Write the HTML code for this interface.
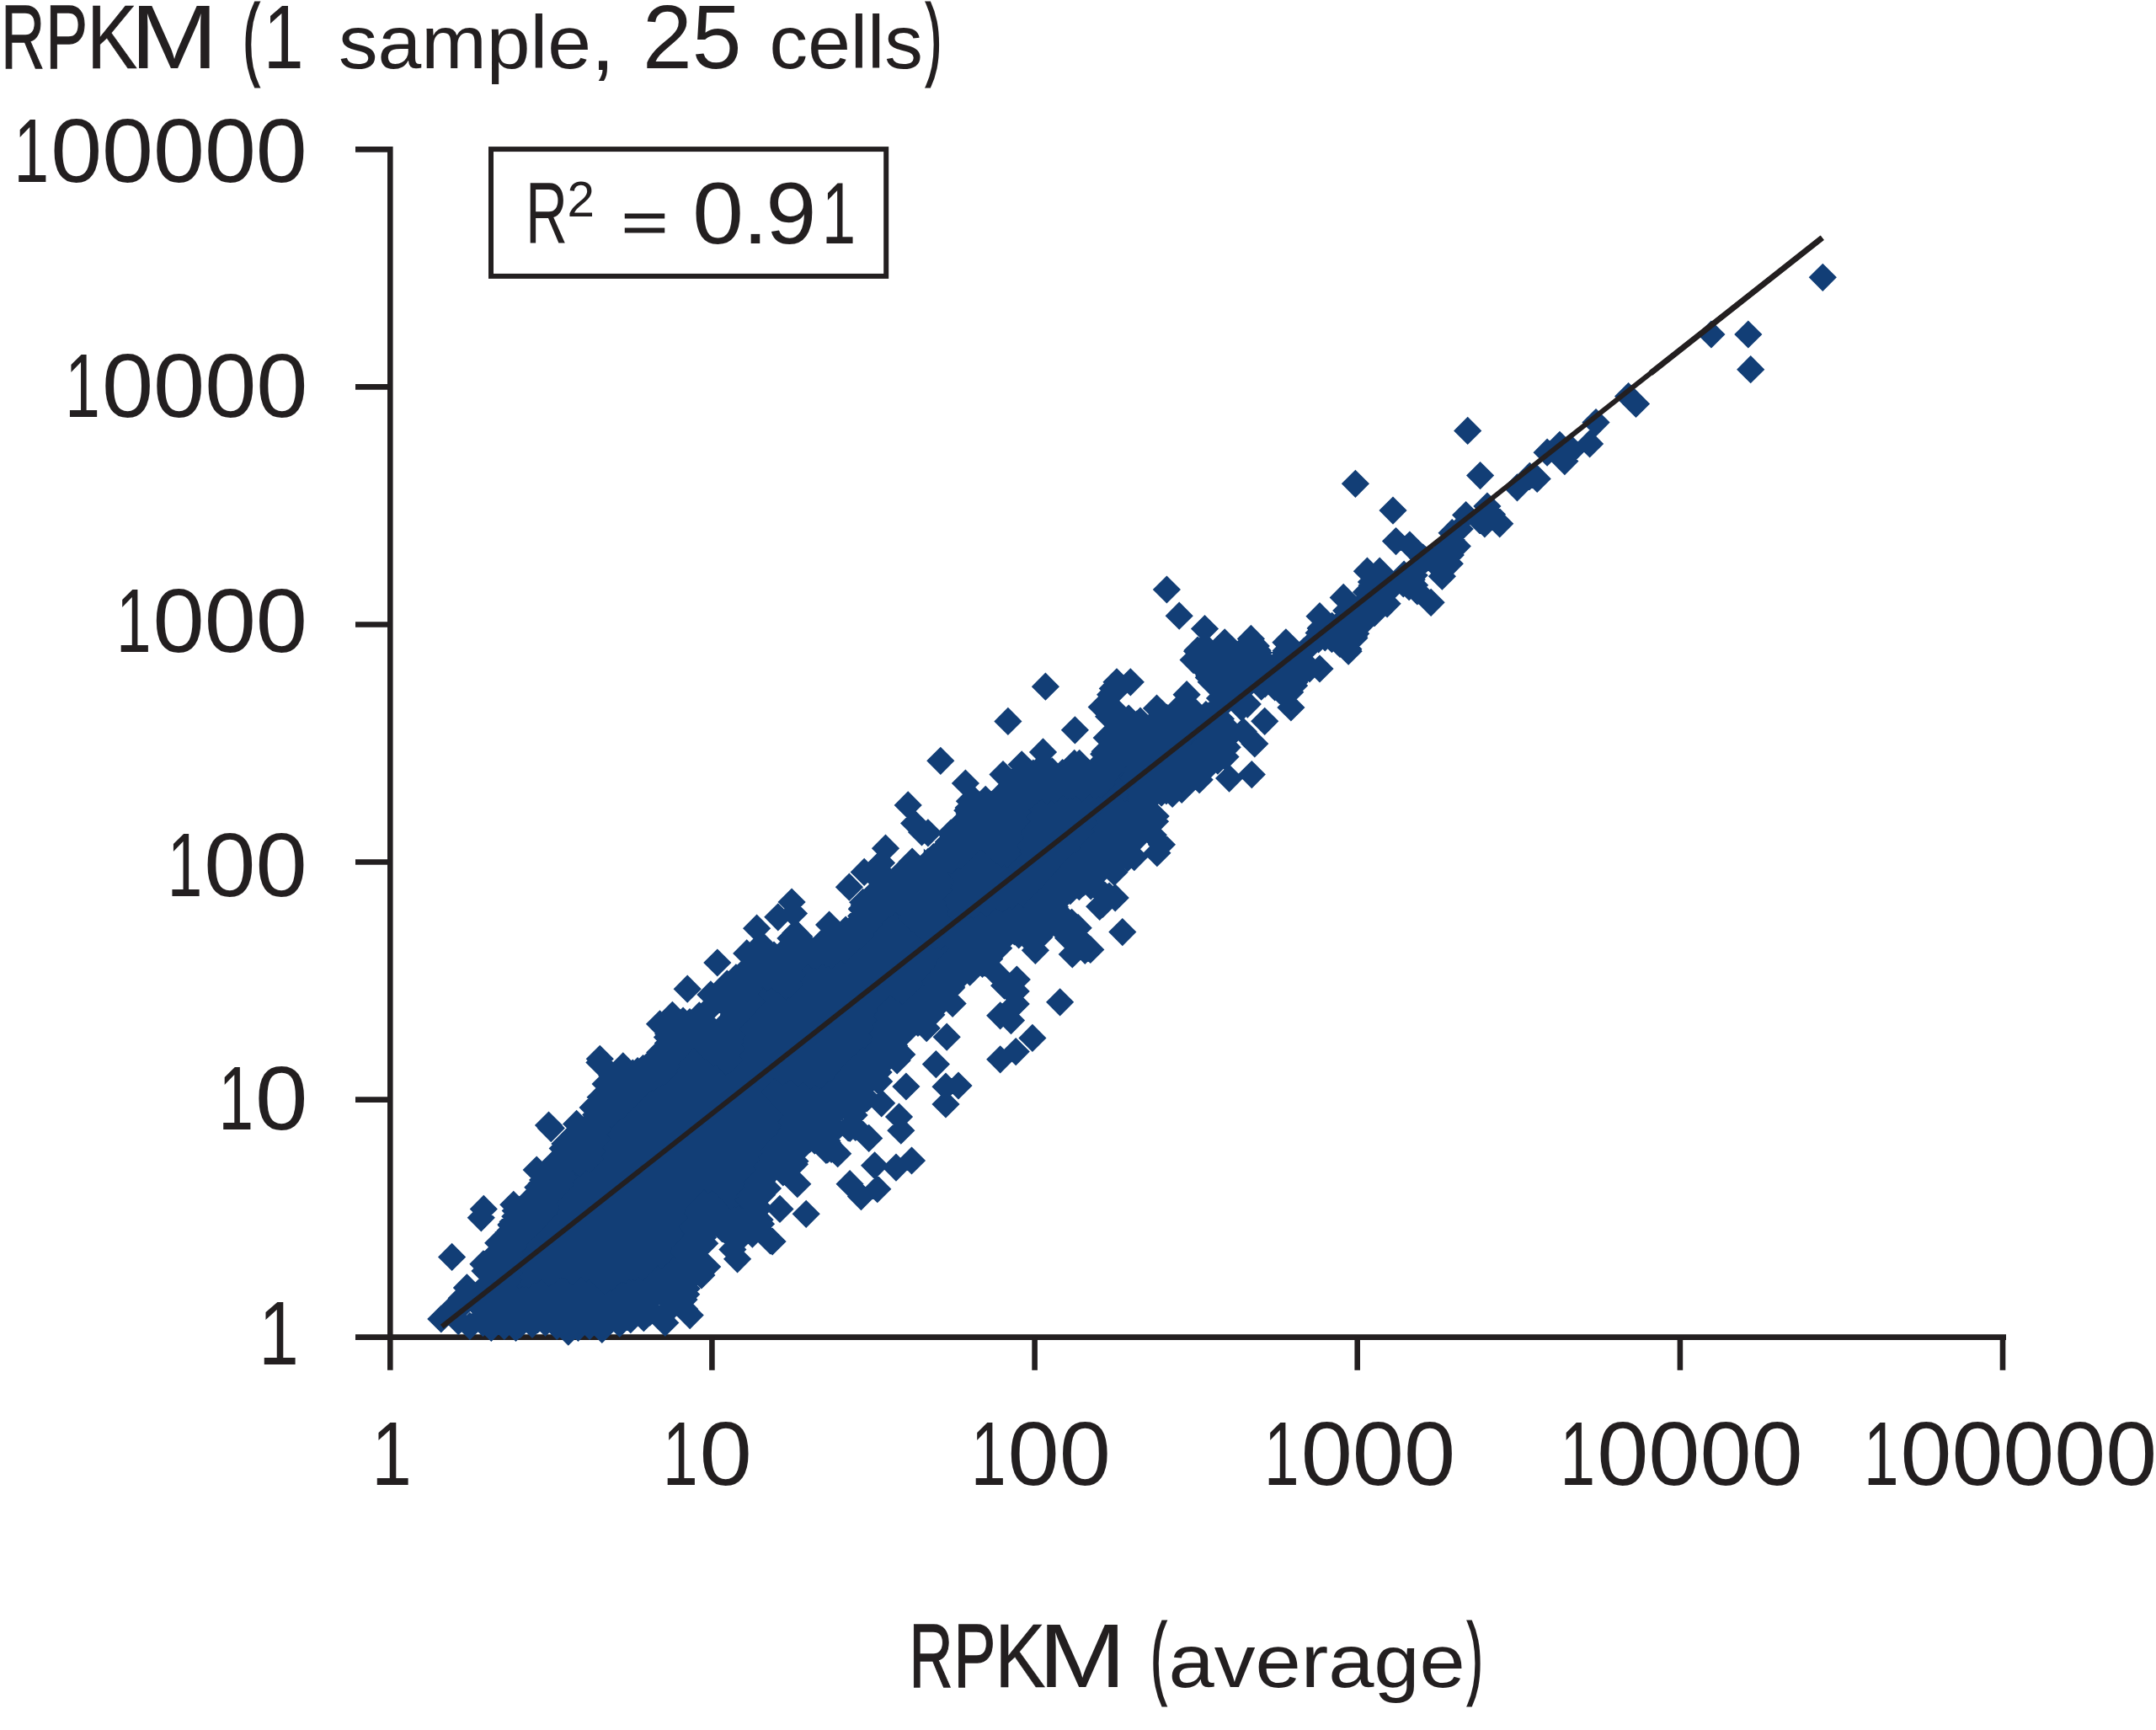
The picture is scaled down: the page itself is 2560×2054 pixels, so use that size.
<!DOCTYPE html>
<html><head><meta charset="utf-8"><title>RPKM scatter</title>
<style>
html,body{margin:0;padding:0;background:#fff;}
body{width:2560px;height:2054px;overflow:hidden;font-family:"Liberation Sans",sans-serif;}
svg{display:block}
svg text{font-family:"Liberation Sans",sans-serif;fill:#231f20;}
</style></head><body>
<svg width="2560" height="2054" viewBox="0 0 2560 2054">
<rect width="2560" height="2054" fill="#fff"/>
<g stroke="#231f20" stroke-width="6.6" fill="none"><path d="M463.3,174.1V1626.8" /><path d="M422,1587.6H2382" /><path d="M845.4,1587.6V1626.8" /><path d="M1228.6,1587.6V1626.8" /><path d="M1611.7,1587.6V1626.8" /><path d="M1994.9,1587.6V1626.8" /><path d="M2378.0,1587.6V1626.8" /><path d="M422,177.4H463.3" /><path d="M422,459.4H463.3" /><path d="M422,741.5H463.3" /><path d="M422,1023.5H463.3" /><path d="M422,1305.6H463.3" /></g>
<path fill="#123e76" d="M557.8,1552.2L571.0,1551.1L585.4,1560.0L595.9,1555.3L613.8,1562.4L632.6,1558.3L663.6,1553.1L677.0,1563.4L691.9,1554.3L714.9,1563.8L737.1,1558.8L773.9,1546.5L781.9,1550.5L797.5,1531.8L811.8,1539.9L843.4,1451.7L872.4,1472.5L877.0,1468.0L902.8,1462.9L904.4,1461.3L906.3,1426.6L927.7,1391.0L947.7,1355.9L971.4,1355.9L954.3,1321.7L1001.6,1330.3L994.5,1313.7L1032.7,1279.3L1052.8,1260.0L1068.6,1223.2L1080.1,1226.9L1079.1,1224.1L1098.9,1219.5L1095.9,1213.1L1120.4,1183.0L1130.3,1163.3L1173.9,1141.5L1160.4,1121.1L1218.5,1106.6L1221.3,1110.1L1225.3,1109.1L1229.4,1112.5L1252.1,1089.9L1247.6,1084.6L1290.0,1042.1L1299.3,1051.0L1292.7,1041.9L1329.9,986.1L1341.3,996.0L1359.0,968.0L1367.8,975.7L1362.9,918.2L1380.4,940.5L1387.7,936.8L1403.2,905.9L1422.3,916.4L1446.5,898.5L1457.3,908.9L1459.9,905.6L1451.1,857.0L1414.0,835.7L1398.6,854.4L1380.7,849.1L1371.4,860.3L1344.1,860.3L1319.7,835.9L1314.7,843.5L1319.1,862.7L1327.2,873.0L1298.1,913.6L1244.9,918.9L1238.5,912.4L1232.0,918.8L1225.3,918.2L1216.7,930.6L1200.6,929.5L1197.4,932.7L1183.1,983.3L1151.2,953.8L1147.3,972.4L1129.5,993.7L1132.1,997.0L1111.3,1022.0L1096.8,1007.6L1096.8,1075.5L1056.5,1036.6L1050.7,1053.7L1025.8,1071.3L1018.0,1096.2L984.8,1116.1L939.9,1109.7L925.9,1143.7L909.7,1131.4L909.5,1131.9L874.6,1178.3L860.8,1168.8L851.6,1227.2L825.6,1204.9L825.5,1206.1L802.3,1222.4L793.1,1231.5L786.4,1251.2L761.5,1263.7L730.2,1292.1L719.9,1284.2L715.4,1302.3L699.4,1324.8L684.6,1361.7L664.2,1355.0L664.2,1376.3L638.6,1412.9L622.4,1438.8L595.1,1466.1L587.8,1461.7L588.6,1488.1L581.4,1527.1L560.1,1549.1L557.8,1552.2zM1451.8,827.8L1484.3,841.9L1457.4,797.1L1528.8,822.0L1533.0,826.3L1533.2,826.0L1533.7,811.7L1557.2,797.3L1558.2,796.3L1532.9,779.0L1539.2,774.8L1530.0,768.4L1511.8,790.8L1490.4,769.4L1489.2,768.1L1474.7,782.0L1455.1,771.0L1434.8,779.2L1428.3,768.6L1425.9,774.6L1424.5,780.1L1451.8,827.8zM1563.0,758.9L1566.5,756.6L1593.3,761.4L1600.3,767.5L1603.4,764.4L1613.2,740.0L1626.0,729.0L1602.9,716.1L1589.1,749.4L1574.0,739.5L1568.8,751.7L1563.0,758.9zM1627.5,727.8L1635.6,720.8L1653.7,696.6L1638.6,683.6L1630.8,690.8L1624.8,685.2L1627.5,727.8zM1662.2,688.9L1688.1,701.9L1672.7,676.6L1662.2,688.9zM1694.1,663.3L1711.8,678.6L1715.9,674.7L1721.9,662.7L1729.5,644.8L1730.5,629.1L1717.8,648.2L1694.1,663.3zM1759.6,615.0L1763.0,617.6L1770.0,612.3L1769.2,611.2L1766.1,608.1L1759.6,615.0z"/>
<path fill="#123e76" d="M1209.4,939.0l16.6,16.6l-16.6,16.6l-16.6,-16.6zM929.5,1373.9l16.6,16.6l-16.6,16.6l-16.6,-16.6zM936.5,1151.3l16.6,16.6l-16.6,16.6l-16.6,-16.6zM1447.6,864.0l16.6,16.6l-16.6,16.6l-16.6,-16.6zM1263.6,1026.4l16.6,16.6l-16.6,16.6l-16.6,-16.6zM981.1,1115.7l16.6,16.6l-16.6,16.6l-16.6,-16.6zM1167.3,1099.4l16.6,16.6l-16.6,16.6l-16.6,-16.6zM740.0,1277.4l16.6,16.6l-16.6,16.6l-16.6,-16.6zM1040.0,1056.4l16.6,16.6l-16.6,16.6l-16.6,-16.6zM629.0,1537.1l16.6,16.6l-16.6,16.6l-16.6,-16.6zM631.9,1419.0l16.6,16.6l-16.6,16.6l-16.6,-16.6zM1033.7,1075.2l16.6,16.6l-16.6,16.6l-16.6,-16.6zM653.9,1398.2l16.6,16.6l-16.6,16.6l-16.6,-16.6zM1168.9,1102.7l16.6,16.6l-16.6,16.6l-16.6,-16.6zM1447.5,784.1l16.6,16.6l-16.6,16.6l-16.6,-16.6zM1157.8,955.3l16.6,16.6l-16.6,16.6l-16.6,-16.6zM808.1,1498.9l16.6,16.6l-16.6,16.6l-16.6,-16.6zM834.6,1452.7l16.6,16.6l-16.6,16.6l-16.6,-16.6zM1357.2,876.4l16.6,16.6l-16.6,16.6l-16.6,-16.6zM1344.3,879.3l16.6,16.6l-16.6,16.6l-16.6,-16.6zM812.0,1526.5l16.6,16.6l-16.6,16.6l-16.6,-16.6zM1367.6,951.5l16.6,16.6l-16.6,16.6l-16.6,-16.6zM1079.0,1062.4l16.6,16.6l-16.6,16.6l-16.6,-16.6zM1297.2,902.5l16.6,16.6l-16.6,16.6l-16.6,-16.6zM1458.2,778.3l16.6,16.6l-16.6,16.6l-16.6,-16.6zM1261.6,901.0l16.6,16.6l-16.6,16.6l-16.6,-16.6zM863.6,1164.7l16.6,16.6l-16.6,16.6l-16.6,-16.6zM751.3,1257.4l16.6,16.6l-16.6,16.6l-16.6,-16.6zM934.3,1132.9l16.6,16.6l-16.6,16.6l-16.6,-16.6zM1445.9,782.6l16.6,16.6l-16.6,16.6l-16.6,-16.6zM1564.7,740.7l16.6,16.6l-16.6,16.6l-16.6,-16.6zM1517.0,800.4l16.6,16.6l-16.6,16.6l-16.6,-16.6zM1187.3,956.3l16.6,16.6l-16.6,16.6l-16.6,-16.6zM1321.6,881.6l16.6,16.6l-16.6,16.6l-16.6,-16.6zM1099.8,1009.2l16.6,16.6l-16.6,16.6l-16.6,-16.6zM1170.1,950.8l16.6,16.6l-16.6,16.6l-16.6,-16.6zM678.6,1544.7l16.6,16.6l-16.6,16.6l-16.6,-16.6zM1325.0,966.6l16.6,16.6l-16.6,16.6l-16.6,-16.6zM1308.1,1003.3l16.6,16.6l-16.6,16.6l-16.6,-16.6zM1550.9,754.6l16.6,16.6l-16.6,16.6l-16.6,-16.6zM609.6,1444.6l16.6,16.6l-16.6,16.6l-16.6,-16.6zM962.8,1309.8l16.6,16.6l-16.6,16.6l-16.6,-16.6zM1425.8,842.8l16.6,16.6l-16.6,16.6l-16.6,-16.6zM631.0,1423.8l16.6,16.6l-16.6,16.6l-16.6,-16.6zM1327.1,863.4l16.6,16.6l-16.6,16.6l-16.6,-16.6zM1482.0,783.9l16.6,16.6l-16.6,16.6l-16.6,-16.6zM1645.7,669.2l16.6,16.6l-16.6,16.6l-16.6,-16.6zM1324.8,827.4l16.6,16.6l-16.6,16.6l-16.6,-16.6zM1314.9,981.2l16.6,16.6l-16.6,16.6l-16.6,-16.6zM700.5,1536.5l16.6,16.6l-16.6,16.6l-16.6,-16.6zM709.0,1335.8l16.6,16.6l-16.6,16.6l-16.6,-16.6zM1127.3,1128.6l16.6,16.6l-16.6,16.6l-16.6,-16.6zM1077.2,1201.3l16.6,16.6l-16.6,16.6l-16.6,-16.6zM1361.2,935.9l16.6,16.6l-16.6,16.6l-16.6,-16.6zM1125.8,1129.1l16.6,16.6l-16.6,16.6l-16.6,-16.6zM1356.9,942.1l16.6,16.6l-16.6,16.6l-16.6,-16.6zM699.6,1519.0l16.6,16.6l-16.6,16.6l-16.6,-16.6zM1452.7,766.9l16.6,16.6l-16.6,16.6l-16.6,-16.6zM932.7,1290.2l16.6,16.6l-16.6,16.6l-16.6,-16.6zM624.5,1526.3l16.6,16.6l-16.6,16.6l-16.6,-16.6zM657.8,1364.7l16.6,16.6l-16.6,16.6l-16.6,-16.6zM772.3,1262.8l16.6,16.6l-16.6,16.6l-16.6,-16.6zM1284.9,919.0l16.6,16.6l-16.6,16.6l-16.6,-16.6zM591.2,1542.2l16.6,16.6l-16.6,16.6l-16.6,-16.6zM1432.6,774.3l16.6,16.6l-16.6,16.6l-16.6,-16.6zM594.2,1481.6l16.6,16.6l-16.6,16.6l-16.6,-16.6zM821.3,1487.7l16.6,16.6l-16.6,16.6l-16.6,-16.6zM690.4,1530.8l16.6,16.6l-16.6,16.6l-16.6,-16.6zM619.9,1450.1l16.6,16.6l-16.6,16.6l-16.6,-16.6zM1444.0,869.4l16.6,16.6l-16.6,16.6l-16.6,-16.6zM1098.5,1083.8l16.6,16.6l-16.6,16.6l-16.6,-16.6zM625.2,1428.6l16.6,16.6l-16.6,16.6l-16.6,-16.6zM1181.6,1098.2l16.6,16.6l-16.6,16.6l-16.6,-16.6zM1082.8,1073.3l16.6,16.6l-16.6,16.6l-16.6,-16.6zM1339.5,842.6l16.6,16.6l-16.6,16.6l-16.6,-16.6zM1384.8,850.0l16.6,16.6l-16.6,16.6l-16.6,-16.6zM1314.5,827.9l16.6,16.6l-16.6,16.6l-16.6,-16.6zM1304.1,1038.7l16.6,16.6l-16.6,16.6l-16.6,-16.6zM1235.0,1060.4l16.6,16.6l-16.6,16.6l-16.6,-16.6zM1106.5,1028.1l16.6,16.6l-16.6,16.6l-16.6,-16.6zM1439.8,868.8l16.6,16.6l-16.6,16.6l-16.6,-16.6zM1245.2,1066.1l16.6,16.6l-16.6,16.6l-16.6,-16.6zM1186.7,1085.4l16.6,16.6l-16.6,16.6l-16.6,-16.6zM1091.6,1189.0l16.6,16.6l-16.6,16.6l-16.6,-16.6zM1162.6,1120.1l16.6,16.6l-16.6,16.6l-16.6,-16.6zM617.2,1445.8l16.6,16.6l-16.6,16.6l-16.6,-16.6zM1091.0,1184.7l16.6,16.6l-16.6,16.6l-16.6,-16.6zM1206.8,958.3l16.6,16.6l-16.6,16.6l-16.6,-16.6zM1367.4,915.6l16.6,16.6l-16.6,16.6l-16.6,-16.6zM741.7,1267.5l16.6,16.6l-16.6,16.6l-16.6,-16.6zM984.2,1283.5l16.6,16.6l-16.6,16.6l-16.6,-16.6zM805.9,1504.1l16.6,16.6l-16.6,16.6l-16.6,-16.6zM1419.3,837.7l16.6,16.6l-16.6,16.6l-16.6,-16.6zM1623.5,704.5l16.6,16.6l-16.6,16.6l-16.6,-16.6zM1366.6,925.3l16.6,16.6l-16.6,16.6l-16.6,-16.6zM1057.6,1222.3l16.6,16.6l-16.6,16.6l-16.6,-16.6zM1410.5,825.8l16.6,16.6l-16.6,16.6l-16.6,-16.6zM1431.9,831.9l16.6,16.6l-16.6,16.6l-16.6,-16.6zM686.7,1350.1l16.6,16.6l-16.6,16.6l-16.6,-16.6zM1286.7,1031.2l16.6,16.6l-16.6,16.6l-16.6,-16.6zM1183.2,992.6l16.6,16.6l-16.6,16.6l-16.6,-16.6zM1243.2,922.1l16.6,16.6l-16.6,16.6l-16.6,-16.6zM915.5,1137.4l16.6,16.6l-16.6,16.6l-16.6,-16.6zM1346.6,875.0l16.6,16.6l-16.6,16.6l-16.6,-16.6zM1152.0,1120.9l16.6,16.6l-16.6,16.6l-16.6,-16.6zM1380.9,831.8l16.6,16.6l-16.6,16.6l-16.6,-16.6zM685.8,1359.0l16.6,16.6l-16.6,16.6l-16.6,-16.6zM1125.6,1143.1l16.6,16.6l-16.6,16.6l-16.6,-16.6zM1375.7,849.2l16.6,16.6l-16.6,16.6l-16.6,-16.6zM1107.6,1016.1l16.6,16.6l-16.6,16.6l-16.6,-16.6zM952.0,1309.4l16.6,16.6l-16.6,16.6l-16.6,-16.6zM1385.5,912.1l16.6,16.6l-16.6,16.6l-16.6,-16.6zM1290.2,905.4l16.6,16.6l-16.6,16.6l-16.6,-16.6zM1285.3,1023.4l16.6,16.6l-16.6,16.6l-16.6,-16.6zM687.2,1526.7l16.6,16.6l-16.6,16.6l-16.6,-16.6zM735.5,1296.6l16.6,16.6l-16.6,16.6l-16.6,-16.6zM770.2,1247.7l16.6,16.6l-16.6,16.6l-16.6,-16.6zM731.9,1298.7l16.6,16.6l-16.6,16.6l-16.6,-16.6zM814.7,1520.1l16.6,16.6l-16.6,16.6l-16.6,-16.6zM863.3,1175.8l16.6,16.6l-16.6,16.6l-16.6,-16.6zM1383.3,897.0l16.6,16.6l-16.6,16.6l-16.6,-16.6zM1194.7,1095.2l16.6,16.6l-16.6,16.6l-16.6,-16.6zM1433.8,851.1l16.6,16.6l-16.6,16.6l-16.6,-16.6zM1426.8,871.0l16.6,16.6l-16.6,16.6l-16.6,-16.6zM1051.9,1211.8l16.6,16.6l-16.6,16.6l-16.6,-16.6zM1091.2,1060.3l16.6,16.6l-16.6,16.6l-16.6,-16.6zM1536.2,779.3l16.6,16.6l-16.6,16.6l-16.6,-16.6zM1245.1,898.4l16.6,16.6l-16.6,16.6l-16.6,-16.6zM1581.6,726.7l16.6,16.6l-16.6,16.6l-16.6,-16.6zM1060.2,1222.1l16.6,16.6l-16.6,16.6l-16.6,-16.6zM1585.3,732.6l16.6,16.6l-16.6,16.6l-16.6,-16.6zM883.6,1448.2l16.6,16.6l-16.6,16.6l-16.6,-16.6zM1282.9,1031.4l16.6,16.6l-16.6,16.6l-16.6,-16.6zM1631.8,699.0l16.6,16.6l-16.6,16.6l-16.6,-16.6zM1160.5,1103.5l16.6,16.6l-16.6,16.6l-16.6,-16.6zM845.1,1427.4l16.6,16.6l-16.6,16.6l-16.6,-16.6zM1294.2,1027.7l16.6,16.6l-16.6,16.6l-16.6,-16.6zM825.8,1445.1l16.6,16.6l-16.6,16.6l-16.6,-16.6zM1035.2,1068.4l16.6,16.6l-16.6,16.6l-16.6,-16.6zM1327.6,948.9l16.6,16.6l-16.6,16.6l-16.6,-16.6zM1339.4,857.1l16.6,16.6l-16.6,16.6l-16.6,-16.6zM1325.5,836.7l16.6,16.6l-16.6,16.6l-16.6,-16.6zM1204.4,1089.2l16.6,16.6l-16.6,16.6l-16.6,-16.6zM828.4,1423.7l16.6,16.6l-16.6,16.6l-16.6,-16.6zM1243.3,1076.4l16.6,16.6l-16.6,16.6l-16.6,-16.6zM1111.6,1151.3l16.6,16.6l-16.6,16.6l-16.6,-16.6zM1129.1,972.4l16.6,16.6l-16.6,16.6l-16.6,-16.6zM845.0,1213.1l16.6,16.6l-16.6,16.6l-16.6,-16.6zM680.1,1345.8l16.6,16.6l-16.6,16.6l-16.6,-16.6zM954.4,1329.8l16.6,16.6l-16.6,16.6l-16.6,-16.6zM1001.7,1104.7l16.6,16.6l-16.6,16.6l-16.6,-16.6zM1375.3,854.0l16.6,16.6l-16.6,16.6l-16.6,-16.6zM997.4,1283.7l16.6,16.6l-16.6,16.6l-16.6,-16.6zM802.6,1226.0l16.6,16.6l-16.6,16.6l-16.6,-16.6zM1044.6,1241.7l16.6,16.6l-16.6,16.6l-16.6,-16.6zM1270.6,1022.8l16.6,16.6l-16.6,16.6l-16.6,-16.6zM1401.7,832.8l16.6,16.6l-16.6,16.6l-16.6,-16.6zM1442.9,849.0l16.6,16.6l-16.6,16.6l-16.6,-16.6zM763.1,1257.8l16.6,16.6l-16.6,16.6l-16.6,-16.6zM938.1,1282.3l16.6,16.6l-16.6,16.6l-16.6,-16.6zM1191.4,936.3l16.6,16.6l-16.6,16.6l-16.6,-16.6zM1312.1,875.6l16.6,16.6l-16.6,16.6l-16.6,-16.6zM665.6,1516.2l16.6,16.6l-16.6,16.6l-16.6,-16.6zM788.2,1511.1l16.6,16.6l-16.6,16.6l-16.6,-16.6zM829.4,1464.1l16.6,16.6l-16.6,16.6l-16.6,-16.6zM1055.2,1199.8l16.6,16.6l-16.6,16.6l-16.6,-16.6zM1357.1,953.5l16.6,16.6l-16.6,16.6l-16.6,-16.6zM1213.4,910.8l16.6,16.6l-16.6,16.6l-16.6,-16.6zM1530.2,805.2l16.6,16.6l-16.6,16.6l-16.6,-16.6zM1462.0,777.6l16.6,16.6l-16.6,16.6l-16.6,-16.6zM1536.6,797.4l16.6,16.6l-16.6,16.6l-16.6,-16.6zM954.8,1292.9l16.6,16.6l-16.6,16.6l-16.6,-16.6zM1528.6,763.0l16.6,16.6l-16.6,16.6l-16.6,-16.6zM963.5,1326.1l16.6,16.6l-16.6,16.6l-16.6,-16.6zM1310.7,878.7l16.6,16.6l-16.6,16.6l-16.6,-16.6zM980.4,1099.6l16.6,16.6l-16.6,16.6l-16.6,-16.6zM981.9,1297.7l16.6,16.6l-16.6,16.6l-16.6,-16.6zM1021.6,1252.8l16.6,16.6l-16.6,16.6l-16.6,-16.6zM1059.5,1232.2l16.6,16.6l-16.6,16.6l-16.6,-16.6zM1307.0,891.4l16.6,16.6l-16.6,16.6l-16.6,-16.6zM941.6,1317.4l16.6,16.6l-16.6,16.6l-16.6,-16.6zM872.7,1175.8l16.6,16.6l-16.6,16.6l-16.6,-16.6zM1443.8,833.7l16.6,16.6l-16.6,16.6l-16.6,-16.6zM1438.2,793.1l16.6,16.6l-16.6,16.6l-16.6,-16.6zM1355.2,854.3l16.6,16.6l-16.6,16.6l-16.6,-16.6zM1333.7,949.5l16.6,16.6l-16.6,16.6l-16.6,-16.6zM1466.4,810.0l16.6,16.6l-16.6,16.6l-16.6,-16.6zM879.0,1436.1l16.6,16.6l-16.6,16.6l-16.6,-16.6zM1481.3,819.5l16.6,16.6l-16.6,16.6l-16.6,-16.6zM1106.9,1071.7l16.6,16.6l-16.6,16.6l-16.6,-16.6zM1043.1,1250.6l16.6,16.6l-16.6,16.6l-16.6,-16.6zM1001.2,1273.6l16.6,16.6l-16.6,16.6l-16.6,-16.6zM1452.4,786.2l16.6,16.6l-16.6,16.6l-16.6,-16.6zM1150.1,942.5l16.6,16.6l-16.6,16.6l-16.6,-16.6zM692.6,1538.3l16.6,16.6l-16.6,16.6l-16.6,-16.6zM845.7,1413.0l16.6,16.6l-16.6,16.6l-16.6,-16.6zM830.3,1189.3l16.6,16.6l-16.6,16.6l-16.6,-16.6zM1403.8,835.8l16.6,16.6l-16.6,16.6l-16.6,-16.6zM1446.0,844.3l16.6,16.6l-16.6,16.6l-16.6,-16.6zM1451.0,805.8l16.6,16.6l-16.6,16.6l-16.6,-16.6zM1610.7,724.5l16.6,16.6l-16.6,16.6l-16.6,-16.6zM792.0,1509.3l16.6,16.6l-16.6,16.6l-16.6,-16.6zM977.5,1292.9l16.6,16.6l-16.6,16.6l-16.6,-16.6zM1117.7,1141.0l16.6,16.6l-16.6,16.6l-16.6,-16.6zM801.7,1206.4l16.6,16.6l-16.6,16.6l-16.6,-16.6zM1374.9,863.0l16.6,16.6l-16.6,16.6l-16.6,-16.6zM1036.0,1070.0l16.6,16.6l-16.6,16.6l-16.6,-16.6zM1188.9,996.7l16.6,16.6l-16.6,16.6l-16.6,-16.6zM1437.2,854.2l16.6,16.6l-16.6,16.6l-16.6,-16.6zM647.8,1419.5l16.6,16.6l-16.6,16.6l-16.6,-16.6zM781.2,1502.6l16.6,16.6l-16.6,16.6l-16.6,-16.6zM740.4,1278.3l16.6,16.6l-16.6,16.6l-16.6,-16.6zM1247.4,900.8l16.6,16.6l-16.6,16.6l-16.6,-16.6zM1098.1,1031.8l16.6,16.6l-16.6,16.6l-16.6,-16.6zM1154.8,967.4l16.6,16.6l-16.6,16.6l-16.6,-16.6zM1155.4,976.4l16.6,16.6l-16.6,16.6l-16.6,-16.6zM958.3,1110.3l16.6,16.6l-16.6,16.6l-16.6,-16.6zM1185.0,958.3l16.6,16.6l-16.6,16.6l-16.6,-16.6zM1692.0,648.0l16.6,16.6l-16.6,16.6l-16.6,-16.6zM699.8,1359.8l16.6,16.6l-16.6,16.6l-16.6,-16.6zM816.7,1493.1l16.6,16.6l-16.6,16.6l-16.6,-16.6zM699.9,1337.5l16.6,16.6l-16.6,16.6l-16.6,-16.6zM1459.6,792.7l16.6,16.6l-16.6,16.6l-16.6,-16.6zM1362.2,883.1l16.6,16.6l-16.6,16.6l-16.6,-16.6zM1098.8,1038.0l16.6,16.6l-16.6,16.6l-16.6,-16.6zM1126.4,982.9l16.6,16.6l-16.6,16.6l-16.6,-16.6zM1434.5,877.1l16.6,16.6l-16.6,16.6l-16.6,-16.6zM1764.0,595.6l16.6,16.6l-16.6,16.6l-16.6,-16.6zM1499.0,796.6l16.6,16.6l-16.6,16.6l-16.6,-16.6zM868.6,1228.6l16.6,16.6l-16.6,16.6l-16.6,-16.6zM1446.8,776.9l16.6,16.6l-16.6,16.6l-16.6,-16.6zM882.2,1439.5l16.6,16.6l-16.6,16.6l-16.6,-16.6zM603.2,1487.2l16.6,16.6l-16.6,16.6l-16.6,-16.6zM647.3,1415.5l16.6,16.6l-16.6,16.6l-16.6,-16.6zM1179.3,1080.9l16.6,16.6l-16.6,16.6l-16.6,-16.6zM1055.0,1187.7l16.6,16.6l-16.6,16.6l-16.6,-16.6zM863.3,1151.6l16.6,16.6l-16.6,16.6l-16.6,-16.6zM1134.6,968.7l16.6,16.6l-16.6,16.6l-16.6,-16.6zM1116.9,1094.5l16.6,16.6l-16.6,16.6l-16.6,-16.6zM1226.8,901.5l16.6,16.6l-16.6,16.6l-16.6,-16.6zM1353.6,930.1l16.6,16.6l-16.6,16.6l-16.6,-16.6zM656.6,1536.8l16.6,16.6l-16.6,16.6l-16.6,-16.6zM1625.7,693.0l16.6,16.6l-16.6,16.6l-16.6,-16.6zM1360.9,894.2l16.6,16.6l-16.6,16.6l-16.6,-16.6zM886.8,1440.4l16.6,16.6l-16.6,16.6l-16.6,-16.6zM1039.7,1048.4l16.6,16.6l-16.6,16.6l-16.6,-16.6zM1595.8,729.7l16.6,16.6l-16.6,16.6l-16.6,-16.6zM766.3,1518.3l16.6,16.6l-16.6,16.6l-16.6,-16.6zM1530.0,764.0l16.6,16.6l-16.6,16.6l-16.6,-16.6zM1299.9,994.7l16.6,16.6l-16.6,16.6l-16.6,-16.6zM1194.9,992.6l16.6,16.6l-16.6,16.6l-16.6,-16.6zM1326.0,887.9l16.6,16.6l-16.6,16.6l-16.6,-16.6zM633.1,1530.3l16.6,16.6l-16.6,16.6l-16.6,-16.6zM1604.6,702.2l16.6,16.6l-16.6,16.6l-16.6,-16.6zM1473.7,804.4l16.6,16.6l-16.6,16.6l-16.6,-16.6zM1166.5,1127.8l16.6,16.6l-16.6,16.6l-16.6,-16.6zM1530.3,763.9l16.6,16.6l-16.6,16.6l-16.6,-16.6zM1475.9,788.5l16.6,16.6l-16.6,16.6l-16.6,-16.6zM1201.7,914.3l16.6,16.6l-16.6,16.6l-16.6,-16.6zM1202.3,961.1l16.6,16.6l-16.6,16.6l-16.6,-16.6zM943.0,1302.8l16.6,16.6l-16.6,16.6l-16.6,-16.6zM594.2,1510.5l16.6,16.6l-16.6,16.6l-16.6,-16.6zM611.8,1427.7l16.6,16.6l-16.6,16.6l-16.6,-16.6zM1266.9,1030.3l16.6,16.6l-16.6,16.6l-16.6,-16.6zM1761.7,597.3l16.6,16.6l-16.6,16.6l-16.6,-16.6zM703.0,1350.5l16.6,16.6l-16.6,16.6l-16.6,-16.6zM686.9,1351.5l16.6,16.6l-16.6,16.6l-16.6,-16.6zM1324.9,864.7l16.6,16.6l-16.6,16.6l-16.6,-16.6zM1385.6,911.3l16.6,16.6l-16.6,16.6l-16.6,-16.6zM752.4,1268.2l16.6,16.6l-16.6,16.6l-16.6,-16.6zM1628.2,687.5l16.6,16.6l-16.6,16.6l-16.6,-16.6zM642.9,1424.9l16.6,16.6l-16.6,16.6l-16.6,-16.6zM1249.2,1079.5l16.6,16.6l-16.6,16.6l-16.6,-16.6zM1152.7,1112.4l16.6,16.6l-16.6,16.6l-16.6,-16.6zM1374.8,915.2l16.6,16.6l-16.6,16.6l-16.6,-16.6zM1225.0,925.2l16.6,16.6l-16.6,16.6l-16.6,-16.6zM1364.6,915.1l16.6,16.6l-16.6,16.6l-16.6,-16.6zM709.4,1528.2l16.6,16.6l-16.6,16.6l-16.6,-16.6zM911.7,1142.8l16.6,16.6l-16.6,16.6l-16.6,-16.6zM807.1,1211.3l16.6,16.6l-16.6,16.6l-16.6,-16.6zM1232.8,900.4l16.6,16.6l-16.6,16.6l-16.6,-16.6zM925.8,1360.8l16.6,16.6l-16.6,16.6l-16.6,-16.6zM835.6,1198.0l16.6,16.6l-16.6,16.6l-16.6,-16.6zM763.6,1252.0l16.6,16.6l-16.6,16.6l-16.6,-16.6zM596.0,1508.3l16.6,16.6l-16.6,16.6l-16.6,-16.6zM975.8,1299.0l16.6,16.6l-16.6,16.6l-16.6,-16.6zM1305.7,899.2l16.6,16.6l-16.6,16.6l-16.6,-16.6zM1042.5,1067.6l16.6,16.6l-16.6,16.6l-16.6,-16.6zM1424.6,893.0l16.6,16.6l-16.6,16.6l-16.6,-16.6zM950.0,1300.3l16.6,16.6l-16.6,16.6l-16.6,-16.6zM938.1,1109.3l16.6,16.6l-16.6,16.6l-16.6,-16.6zM880.7,1172.9l16.6,16.6l-16.6,16.6l-16.6,-16.6zM676.8,1358.1l16.6,16.6l-16.6,16.6l-16.6,-16.6zM1351.0,875.5l16.6,16.6l-16.6,16.6l-16.6,-16.6zM822.3,1469.7l16.6,16.6l-16.6,16.6l-16.6,-16.6zM624.8,1441.5l16.6,16.6l-16.6,16.6l-16.6,-16.6zM1435.3,787.9l16.6,16.6l-16.6,16.6l-16.6,-16.6zM1262.9,1030.1l16.6,16.6l-16.6,16.6l-16.6,-16.6zM1006.7,1261.8l16.6,16.6l-16.6,16.6l-16.6,-16.6zM1493.1,755.7l16.6,16.6l-16.6,16.6l-16.6,-16.6zM1394.0,902.7l16.6,16.6l-16.6,16.6l-16.6,-16.6zM1489.9,777.9l16.6,16.6l-16.6,16.6l-16.6,-16.6zM740.5,1286.5l16.6,16.6l-16.6,16.6l-16.6,-16.6zM1353.7,920.0l16.6,16.6l-16.6,16.6l-16.6,-16.6zM714.7,1547.9l16.6,16.6l-16.6,16.6l-16.6,-16.6zM1213.9,931.6l16.6,16.6l-16.6,16.6l-16.6,-16.6zM1019.1,1273.2l16.6,16.6l-16.6,16.6l-16.6,-16.6zM1628.4,674.5l16.6,16.6l-16.6,16.6l-16.6,-16.6zM1064.7,1037.4l16.6,16.6l-16.6,16.6l-16.6,-16.6zM1718.0,634.1l16.6,16.6l-16.6,16.6l-16.6,-16.6zM1014.7,1096.3l16.6,16.6l-16.6,16.6l-16.6,-16.6zM594.4,1515.2l16.6,16.6l-16.6,16.6l-16.6,-16.6zM1004.5,1094.0l16.6,16.6l-16.6,16.6l-16.6,-16.6zM740.0,1530.7l16.6,16.6l-16.6,16.6l-16.6,-16.6zM661.1,1532.2l16.6,16.6l-16.6,16.6l-16.6,-16.6zM1272.4,1029.2l16.6,16.6l-16.6,16.6l-16.6,-16.6zM1109.4,1066.4l16.6,16.6l-16.6,16.6l-16.6,-16.6zM911.0,1144.1l16.6,16.6l-16.6,16.6l-16.6,-16.6zM997.3,1288.2l16.6,16.6l-16.6,16.6l-16.6,-16.6zM1067.4,1207.0l16.6,16.6l-16.6,16.6l-16.6,-16.6zM932.4,1285.8l16.6,16.6l-16.6,16.6l-16.6,-16.6zM1204.1,960.3l16.6,16.6l-16.6,16.6l-16.6,-16.6zM1137.9,1128.6l16.6,16.6l-16.6,16.6l-16.6,-16.6zM961.9,1335.5l16.6,16.6l-16.6,16.6l-16.6,-16.6zM1692.5,647.9l16.6,16.6l-16.6,16.6l-16.6,-16.6zM1164.5,1082.7l16.6,16.6l-16.6,16.6l-16.6,-16.6zM624.5,1541.1l16.6,16.6l-16.6,16.6l-16.6,-16.6zM1340.3,875.2l16.6,16.6l-16.6,16.6l-16.6,-16.6zM1100.2,1204.1l16.6,16.6l-16.6,16.6l-16.6,-16.6zM1308.4,979.2l16.6,16.6l-16.6,16.6l-16.6,-16.6zM1317.2,983.9l16.6,16.6l-16.6,16.6l-16.6,-16.6zM899.4,1144.2l16.6,16.6l-16.6,16.6l-16.6,-16.6zM899.2,1391.3l16.6,16.6l-16.6,16.6l-16.6,-16.6zM1008.3,1265.6l16.6,16.6l-16.6,16.6l-16.6,-16.6zM1444.2,791.7l16.6,16.6l-16.6,16.6l-16.6,-16.6zM649.9,1386.1l16.6,16.6l-16.6,16.6l-16.6,-16.6zM1484.8,776.2l16.6,16.6l-16.6,16.6l-16.6,-16.6zM940.0,1315.3l16.6,16.6l-16.6,16.6l-16.6,-16.6zM1113.8,1152.9l16.6,16.6l-16.6,16.6l-16.6,-16.6zM1313.1,968.0l16.6,16.6l-16.6,16.6l-16.6,-16.6zM903.5,1436.6l16.6,16.6l-16.6,16.6l-16.6,-16.6zM1053.8,1190.3l16.6,16.6l-16.6,16.6l-16.6,-16.6zM616.2,1427.0l16.6,16.6l-16.6,16.6l-16.6,-16.6zM969.7,1118.0l16.6,16.6l-16.6,16.6l-16.6,-16.6zM1347.8,879.4l16.6,16.6l-16.6,16.6l-16.6,-16.6zM1085.0,1069.3l16.6,16.6l-16.6,16.6l-16.6,-16.6zM606.1,1444.4l16.6,16.6l-16.6,16.6l-16.6,-16.6zM858.3,1173.0l16.6,16.6l-16.6,16.6l-16.6,-16.6zM1293.2,996.8l16.6,16.6l-16.6,16.6l-16.6,-16.6zM1153.1,960.0l16.6,16.6l-16.6,16.6l-16.6,-16.6zM899.3,1387.1l16.6,16.6l-16.6,16.6l-16.6,-16.6zM1390.2,838.2l16.6,16.6l-16.6,16.6l-16.6,-16.6zM928.0,1121.3l16.6,16.6l-16.6,16.6l-16.6,-16.6zM1462.0,757.9l16.6,16.6l-16.6,16.6l-16.6,-16.6zM1330.7,975.1l16.6,16.6l-16.6,16.6l-16.6,-16.6zM1005.4,1108.4l16.6,16.6l-16.6,16.6l-16.6,-16.6zM1298.1,988.8l16.6,16.6l-16.6,16.6l-16.6,-16.6zM588.0,1478.9l16.6,16.6l-16.6,16.6l-16.6,-16.6zM868.7,1197.0l16.6,16.6l-16.6,16.6l-16.6,-16.6zM1211.2,925.3l16.6,16.6l-16.6,16.6l-16.6,-16.6zM965.1,1117.5l16.6,16.6l-16.6,16.6l-16.6,-16.6zM887.6,1430.6l16.6,16.6l-16.6,16.6l-16.6,-16.6zM871.5,1451.3l16.6,16.6l-16.6,16.6l-16.6,-16.6zM1002.5,1110.7l16.6,16.6l-16.6,16.6l-16.6,-16.6zM1629.0,678.5l16.6,16.6l-16.6,16.6l-16.6,-16.6zM1193.1,1080.6l16.6,16.6l-16.6,16.6l-16.6,-16.6zM1105.9,1188.2l16.6,16.6l-16.6,16.6l-16.6,-16.6zM881.0,1184.8l16.6,16.6l-16.6,16.6l-16.6,-16.6zM1650.4,681.9l16.6,16.6l-16.6,16.6l-16.6,-16.6zM879.8,1444.6l16.6,16.6l-16.6,16.6l-16.6,-16.6zM1035.7,1050.6l16.6,16.6l-16.6,16.6l-16.6,-16.6zM932.7,1147.7l16.6,16.6l-16.6,16.6l-16.6,-16.6zM633.1,1421.6l16.6,16.6l-16.6,16.6l-16.6,-16.6zM836.7,1459.6l16.6,16.6l-16.6,16.6l-16.6,-16.6zM1021.1,1076.0l16.6,16.6l-16.6,16.6l-16.6,-16.6zM598.9,1495.4l16.6,16.6l-16.6,16.6l-16.6,-16.6zM1171.2,967.3l16.6,16.6l-16.6,16.6l-16.6,-16.6zM856.8,1237.2l16.6,16.6l-16.6,16.6l-16.6,-16.6zM1536.8,793.3l16.6,16.6l-16.6,16.6l-16.6,-16.6zM1399.6,887.4l16.6,16.6l-16.6,16.6l-16.6,-16.6zM1000.0,1106.5l16.6,16.6l-16.6,16.6l-16.6,-16.6zM1377.6,903.8l16.6,16.6l-16.6,16.6l-16.6,-16.6zM1000.7,1282.8l16.6,16.6l-16.6,16.6l-16.6,-16.6zM893.4,1131.0l16.6,16.6l-16.6,16.6l-16.6,-16.6zM765.9,1266.8l16.6,16.6l-16.6,16.6l-16.6,-16.6zM1226.1,925.3l16.6,16.6l-16.6,16.6l-16.6,-16.6zM1667.1,665.5l16.6,16.6l-16.6,16.6l-16.6,-16.6zM1039.2,1232.4l16.6,16.6l-16.6,16.6l-16.6,-16.6zM594.5,1484.9l16.6,16.6l-16.6,16.6l-16.6,-16.6zM804.2,1515.1l16.6,16.6l-16.6,16.6l-16.6,-16.6zM1771.5,594.1l16.6,16.6l-16.6,16.6l-16.6,-16.6zM1181.0,1083.5l16.6,16.6l-16.6,16.6l-16.6,-16.6zM632.7,1423.2l16.6,16.6l-16.6,16.6l-16.6,-16.6zM1247.8,1079.8l16.6,16.6l-16.6,16.6l-16.6,-16.6zM1383.2,834.6l16.6,16.6l-16.6,16.6l-16.6,-16.6zM809.1,1507.2l16.6,16.6l-16.6,16.6l-16.6,-16.6zM909.6,1129.4l16.6,16.6l-16.6,16.6l-16.6,-16.6zM1252.0,920.9l16.6,16.6l-16.6,16.6l-16.6,-16.6zM1227.1,1082.9l16.6,16.6l-16.6,16.6l-16.6,-16.6zM1142.2,995.3l16.6,16.6l-16.6,16.6l-16.6,-16.6zM1319.4,878.4l16.6,16.6l-16.6,16.6l-16.6,-16.6zM690.4,1340.1l16.6,16.6l-16.6,16.6l-16.6,-16.6zM1497.1,783.6l16.6,16.6l-16.6,16.6l-16.6,-16.6zM1184.1,971.9l16.6,16.6l-16.6,16.6l-16.6,-16.6zM1342.0,979.3l16.6,16.6l-16.6,16.6l-16.6,-16.6zM1609.7,735.6l16.6,16.6l-16.6,16.6l-16.6,-16.6zM866.5,1449.6l16.6,16.6l-16.6,16.6l-16.6,-16.6zM643.2,1388.3l16.6,16.6l-16.6,16.6l-16.6,-16.6zM1364.8,873.0l16.6,16.6l-16.6,16.6l-16.6,-16.6zM842.5,1226.0l16.6,16.6l-16.6,16.6l-16.6,-16.6zM828.1,1442.1l16.6,16.6l-16.6,16.6l-16.6,-16.6zM893.9,1140.7l16.6,16.6l-16.6,16.6l-16.6,-16.6zM1037.6,1247.9l16.6,16.6l-16.6,16.6l-16.6,-16.6zM846.7,1415.5l16.6,16.6l-16.6,16.6l-16.6,-16.6zM1150.3,945.4l16.6,16.6l-16.6,16.6l-16.6,-16.6zM1576.2,734.7l16.6,16.6l-16.6,16.6l-16.6,-16.6zM1526.5,758.4l16.6,16.6l-16.6,16.6l-16.6,-16.6zM647.2,1532.0l16.6,16.6l-16.6,16.6l-16.6,-16.6zM1146.0,1109.8l16.6,16.6l-16.6,16.6l-16.6,-16.6zM659.8,1396.0l16.6,16.6l-16.6,16.6l-16.6,-16.6zM1128.0,1125.2l16.6,16.6l-16.6,16.6l-16.6,-16.6zM1061.0,1220.9l16.6,16.6l-16.6,16.6l-16.6,-16.6zM1117.0,1030.0l16.6,16.6l-16.6,16.6l-16.6,-16.6zM1334.7,876.1l16.6,16.6l-16.6,16.6l-16.6,-16.6zM1467.0,785.9l16.6,16.6l-16.6,16.6l-16.6,-16.6zM597.4,1524.7l16.6,16.6l-16.6,16.6l-16.6,-16.6zM944.4,1094.7l16.6,16.6l-16.6,16.6l-16.6,-16.6zM831.0,1193.2l16.6,16.6l-16.6,16.6l-16.6,-16.6zM1326.4,838.4l16.6,16.6l-16.6,16.6l-16.6,-16.6zM1157.3,1095.5l16.6,16.6l-16.6,16.6l-16.6,-16.6zM1385.7,835.7l16.6,16.6l-16.6,16.6l-16.6,-16.6zM1216.2,1092.7l16.6,16.6l-16.6,16.6l-16.6,-16.6zM1098.7,1011.7l16.6,16.6l-16.6,16.6l-16.6,-16.6zM1353.7,924.4l16.6,16.6l-16.6,16.6l-16.6,-16.6zM843.7,1436.7l16.6,16.6l-16.6,16.6l-16.6,-16.6zM825.3,1438.4l16.6,16.6l-16.6,16.6l-16.6,-16.6zM590.7,1516.2l16.6,16.6l-16.6,16.6l-16.6,-16.6zM1345.7,907.0l16.6,16.6l-16.6,16.6l-16.6,-16.6zM607.5,1524.3l16.6,16.6l-16.6,16.6l-16.6,-16.6zM1118.2,994.4l16.6,16.6l-16.6,16.6l-16.6,-16.6zM727.3,1299.4l16.6,16.6l-16.6,16.6l-16.6,-16.6zM737.3,1276.9l16.6,16.6l-16.6,16.6l-16.6,-16.6zM1397.5,869.5l16.6,16.6l-16.6,16.6l-16.6,-16.6zM1596.2,737.6l16.6,16.6l-16.6,16.6l-16.6,-16.6zM937.6,1115.9l16.6,16.6l-16.6,16.6l-16.6,-16.6zM630.7,1410.0l16.6,16.6l-16.6,16.6l-16.6,-16.6zM1542.9,785.7l16.6,16.6l-16.6,16.6l-16.6,-16.6zM1257.8,915.0l16.6,16.6l-16.6,16.6l-16.6,-16.6zM1122.9,987.8l16.6,16.6l-16.6,16.6l-16.6,-16.6zM1617.2,710.6l16.6,16.6l-16.6,16.6l-16.6,-16.6zM1075.6,1208.1l16.6,16.6l-16.6,16.6l-16.6,-16.6zM638.8,1393.2l16.6,16.6l-16.6,16.6l-16.6,-16.6zM1388.3,903.3l16.6,16.6l-16.6,16.6l-16.6,-16.6zM1335.2,842.8l16.6,16.6l-16.6,16.6l-16.6,-16.6zM924.2,1355.0l16.6,16.6l-16.6,16.6l-16.6,-16.6zM1427.7,761.0l16.6,16.6l-16.6,16.6l-16.6,-16.6zM901.2,1124.6l16.6,16.6l-16.6,16.6l-16.6,-16.6zM1398.0,836.2l16.6,16.6l-16.6,16.6l-16.6,-16.6zM901.3,1417.7l16.6,16.6l-16.6,16.6l-16.6,-16.6zM859.2,1213.9l16.6,16.6l-16.6,16.6l-16.6,-16.6zM805.3,1502.1l16.6,16.6l-16.6,16.6l-16.6,-16.6zM986.9,1289.3l16.6,16.6l-16.6,16.6l-16.6,-16.6zM871.0,1435.5l16.6,16.6l-16.6,16.6l-16.6,-16.6zM1534.8,779.6l16.6,16.6l-16.6,16.6l-16.6,-16.6zM1371.5,958.6l16.6,16.6l-16.6,16.6l-16.6,-16.6zM1318.6,862.4l16.6,16.6l-16.6,16.6l-16.6,-16.6zM656.4,1533.7l16.6,16.6l-16.6,16.6l-16.6,-16.6zM1318.8,978.0l16.6,16.6l-16.6,16.6l-16.6,-16.6zM671.4,1364.5l16.6,16.6l-16.6,16.6l-16.6,-16.6zM1724.1,616.1l16.6,16.6l-16.6,16.6l-16.6,-16.6zM1191.0,961.6l16.6,16.6l-16.6,16.6l-16.6,-16.6zM1711.5,642.3l16.6,16.6l-16.6,16.6l-16.6,-16.6zM1724.5,616.2l16.6,16.6l-16.6,16.6l-16.6,-16.6zM1049.2,1040.0l16.6,16.6l-16.6,16.6l-16.6,-16.6zM995.1,1275.5l16.6,16.6l-16.6,16.6l-16.6,-16.6zM1472.1,812.5l16.6,16.6l-16.6,16.6l-16.6,-16.6zM1142.4,1108.0l16.6,16.6l-16.6,16.6l-16.6,-16.6zM1018.0,1272.3l16.6,16.6l-16.6,16.6l-16.6,-16.6zM669.2,1381.5l16.6,16.6l-16.6,16.6l-16.6,-16.6zM879.0,1156.6l16.6,16.6l-16.6,16.6l-16.6,-16.6zM1090.0,1197.8l16.6,16.6l-16.6,16.6l-16.6,-16.6zM1314.0,997.7l16.6,16.6l-16.6,16.6l-16.6,-16.6zM1198.7,976.9l16.6,16.6l-16.6,16.6l-16.6,-16.6zM1174.1,976.0l16.6,16.6l-16.6,16.6l-16.6,-16.6zM1335.2,956.5l16.6,16.6l-16.6,16.6l-16.6,-16.6zM1095.9,1169.2l16.6,16.6l-16.6,16.6l-16.6,-16.6zM1445.9,886.5l16.6,16.6l-16.6,16.6l-16.6,-16.6zM612.2,1539.5l16.6,16.6l-16.6,16.6l-16.6,-16.6zM829.4,1419.7l16.6,16.6l-16.6,16.6l-16.6,-16.6zM860.2,1166.9l16.6,16.6l-16.6,16.6l-16.6,-16.6zM1323.2,982.0l16.6,16.6l-16.6,16.6l-16.6,-16.6zM791.0,1249.8l16.6,16.6l-16.6,16.6l-16.6,-16.6zM940.5,1141.3l16.6,16.6l-16.6,16.6l-16.6,-16.6zM1547.7,769.6l16.6,16.6l-16.6,16.6l-16.6,-16.6zM941.8,1329.7l16.6,16.6l-16.6,16.6l-16.6,-16.6zM989.0,1307.2l16.6,16.6l-16.6,16.6l-16.6,-16.6zM1242.2,904.8l16.6,16.6l-16.6,16.6l-16.6,-16.6zM787.2,1251.2l16.6,16.6l-16.6,16.6l-16.6,-16.6zM1234.9,1068.7l16.6,16.6l-16.6,16.6l-16.6,-16.6zM949.1,1111.2l16.6,16.6l-16.6,16.6l-16.6,-16.6zM1484.8,751.0l16.6,16.6l-16.6,16.6l-16.6,-16.6zM1000.8,1098.3l16.6,16.6l-16.6,16.6l-16.6,-16.6zM871.4,1166.1l16.6,16.6l-16.6,16.6l-16.6,-16.6zM594.5,1490.4l16.6,16.6l-16.6,16.6l-16.6,-16.6zM764.1,1263.2l16.6,16.6l-16.6,16.6l-16.6,-16.6zM1058.6,1031.6l16.6,16.6l-16.6,16.6l-16.6,-16.6zM1104.8,1029.6l16.6,16.6l-16.6,16.6l-16.6,-16.6zM1061.7,1225.0l16.6,16.6l-16.6,16.6l-16.6,-16.6zM1120.6,1151.0l16.6,16.6l-16.6,16.6l-16.6,-16.6zM1329.6,879.3l16.6,16.6l-16.6,16.6l-16.6,-16.6zM1358.8,914.0l16.6,16.6l-16.6,16.6l-16.6,-16.6zM1423.8,847.3l16.6,16.6l-16.6,16.6l-16.6,-16.6zM1315.9,881.1l16.6,16.6l-16.6,16.6l-16.6,-16.6zM832.3,1441.4l16.6,16.6l-16.6,16.6l-16.6,-16.6zM792.4,1215.0l16.6,16.6l-16.6,16.6l-16.6,-16.6zM919.9,1279.9l16.6,16.6l-16.6,16.6l-16.6,-16.6zM1239.2,894.2l16.6,16.6l-16.6,16.6l-16.6,-16.6zM1197.8,964.2l16.6,16.6l-16.6,16.6l-16.6,-16.6zM1151.6,1137.6l16.6,16.6l-16.6,16.6l-16.6,-16.6zM729.0,1545.0l16.6,16.6l-16.6,16.6l-16.6,-16.6zM1444.4,845.4l16.6,16.6l-16.6,16.6l-16.6,-16.6zM1142.3,1130.8l16.6,16.6l-16.6,16.6l-16.6,-16.6zM598.1,1468.3l16.6,16.6l-16.6,16.6l-16.6,-16.6zM1120.8,1000.8l16.6,16.6l-16.6,16.6l-16.6,-16.6zM760.7,1266.3l16.6,16.6l-16.6,16.6l-16.6,-16.6zM1053.7,1233.4l16.6,16.6l-16.6,16.6l-16.6,-16.6zM1347.9,869.2l16.6,16.6l-16.6,16.6l-16.6,-16.6zM1458.4,807.4l16.6,16.6l-16.6,16.6l-16.6,-16.6zM1600.5,744.8l16.6,16.6l-16.6,16.6l-16.6,-16.6zM821.7,1469.4l16.6,16.6l-16.6,16.6l-16.6,-16.6zM744.8,1521.5l16.6,16.6l-16.6,16.6l-16.6,-16.6zM1724.3,630.7l16.6,16.6l-16.6,16.6l-16.6,-16.6zM740.7,1522.1l16.6,16.6l-16.6,16.6l-16.6,-16.6zM782.4,1258.3l16.6,16.6l-16.6,16.6l-16.6,-16.6zM1246.3,1068.9l16.6,16.6l-16.6,16.6l-16.6,-16.6zM954.9,1312.1l16.6,16.6l-16.6,16.6l-16.6,-16.6zM573.7,1522.3l16.6,16.6l-16.6,16.6l-16.6,-16.6zM1301.5,915.1l16.6,16.6l-16.6,16.6l-16.6,-16.6zM641.4,1407.3l16.6,16.6l-16.6,16.6l-16.6,-16.6zM1600.6,720.5l16.6,16.6l-16.6,16.6l-16.6,-16.6zM1110.7,1148.5l16.6,16.6l-16.6,16.6l-16.6,-16.6zM891.8,1409.9l16.6,16.6l-16.6,16.6l-16.6,-16.6zM818.7,1493.4l16.6,16.6l-16.6,16.6l-16.6,-16.6zM1025.0,1070.6l16.6,16.6l-16.6,16.6l-16.6,-16.6zM867.3,1219.9l16.6,16.6l-16.6,16.6l-16.6,-16.6zM1689.7,646.7l16.6,16.6l-16.6,16.6l-16.6,-16.6zM627.9,1435.4l16.6,16.6l-16.6,16.6l-16.6,-16.6zM1151.4,934.7l16.6,16.6l-16.6,16.6l-16.6,-16.6zM1175.3,961.1l16.6,16.6l-16.6,16.6l-16.6,-16.6zM1625.5,700.2l16.6,16.6l-16.6,16.6l-16.6,-16.6zM1242.6,1073.7l16.6,16.6l-16.6,16.6l-16.6,-16.6zM1219.9,1082.2l16.6,16.6l-16.6,16.6l-16.6,-16.6zM1097.1,1172.0l16.6,16.6l-16.6,16.6l-16.6,-16.6zM971.6,1298.5l16.6,16.6l-16.6,16.6l-16.6,-16.6zM1337.7,960.4l16.6,16.6l-16.6,16.6l-16.6,-16.6zM982.9,1312.9l16.6,16.6l-16.6,16.6l-16.6,-16.6zM654.9,1524.8l16.6,16.6l-16.6,16.6l-16.6,-16.6zM1638.8,688.2l16.6,16.6l-16.6,16.6l-16.6,-16.6zM1083.3,1061.0l16.6,16.6l-16.6,16.6l-16.6,-16.6zM640.1,1535.7l16.6,16.6l-16.6,16.6l-16.6,-16.6zM1632.1,711.1l16.6,16.6l-16.6,16.6l-16.6,-16.6zM1424.6,893.7l16.6,16.6l-16.6,16.6l-16.6,-16.6zM987.0,1103.8l16.6,16.6l-16.6,16.6l-16.6,-16.6zM821.0,1487.2l16.6,16.6l-16.6,16.6l-16.6,-16.6zM845.6,1213.8l16.6,16.6l-16.6,16.6l-16.6,-16.6zM1233.8,1096.1l16.6,16.6l-16.6,16.6l-16.6,-16.6zM859.8,1217.3l16.6,16.6l-16.6,16.6l-16.6,-16.6zM1024.5,1243.0l16.6,16.6l-16.6,16.6l-16.6,-16.6zM752.4,1281.8l16.6,16.6l-16.6,16.6l-16.6,-16.6zM1004.1,1099.1l16.6,16.6l-16.6,16.6l-16.6,-16.6zM1030.2,1243.4l16.6,16.6l-16.6,16.6l-16.6,-16.6zM1108.4,1000.9l16.6,16.6l-16.6,16.6l-16.6,-16.6zM1031.9,1072.3l16.6,16.6l-16.6,16.6l-16.6,-16.6zM1675.6,677.2l16.6,16.6l-16.6,16.6l-16.6,-16.6zM1354.7,881.0l16.6,16.6l-16.6,16.6l-16.6,-16.6zM1216.6,933.4l16.6,16.6l-16.6,16.6l-16.6,-16.6zM776.0,1262.6l16.6,16.6l-16.6,16.6l-16.6,-16.6zM1432.7,895.2l16.6,16.6l-16.6,16.6l-16.6,-16.6zM915.6,1364.2l16.6,16.6l-16.6,16.6l-16.6,-16.6zM1105.9,1066.0l16.6,16.6l-16.6,16.6l-16.6,-16.6zM1347.8,873.9l16.6,16.6l-16.6,16.6l-16.6,-16.6zM792.8,1513.8l16.6,16.6l-16.6,16.6l-16.6,-16.6zM765.0,1258.3l16.6,16.6l-16.6,16.6l-16.6,-16.6zM1604.4,739.9l16.6,16.6l-16.6,16.6l-16.6,-16.6zM818.5,1199.3l16.6,16.6l-16.6,16.6l-16.6,-16.6zM1056.5,1056.7l16.6,16.6l-16.6,16.6l-16.6,-16.6zM1510.5,791.0l16.6,16.6l-16.6,16.6l-16.6,-16.6zM1165.0,959.0l16.6,16.6l-16.6,16.6l-16.6,-16.6zM1112.3,1168.7l16.6,16.6l-16.6,16.6l-16.6,-16.6zM1005.4,1271.2l16.6,16.6l-16.6,16.6l-16.6,-16.6zM1270.9,1031.1l16.6,16.6l-16.6,16.6l-16.6,-16.6zM850.7,1222.1l16.6,16.6l-16.6,16.6l-16.6,-16.6zM1249.3,899.3l16.6,16.6l-16.6,16.6l-16.6,-16.6zM869.8,1179.4l16.6,16.6l-16.6,16.6l-16.6,-16.6zM916.6,1357.9l16.6,16.6l-16.6,16.6l-16.6,-16.6zM1321.6,962.4l16.6,16.6l-16.6,16.6l-16.6,-16.6zM1158.6,1119.7l16.6,16.6l-16.6,16.6l-16.6,-16.6zM1053.3,1203.6l16.6,16.6l-16.6,16.6l-16.6,-16.6zM1142.5,1120.5l16.6,16.6l-16.6,16.6l-16.6,-16.6zM1604.2,718.7l16.6,16.6l-16.6,16.6l-16.6,-16.6zM1391.5,902.3l16.6,16.6l-16.6,16.6l-16.6,-16.6zM603.6,1503.0l16.6,16.6l-16.6,16.6l-16.6,-16.6zM1217.7,1076.3l16.6,16.6l-16.6,16.6l-16.6,-16.6zM1420.1,892.4l16.6,16.6l-16.6,16.6l-16.6,-16.6zM620.4,1527.3l16.6,16.6l-16.6,16.6l-16.6,-16.6zM1097.5,1086.4l16.6,16.6l-16.6,16.6l-16.6,-16.6zM1202.2,929.8l16.6,16.6l-16.6,16.6l-16.6,-16.6zM1053.2,1040.5l16.6,16.6l-16.6,16.6l-16.6,-16.6zM1305.1,912.8l16.6,16.6l-16.6,16.6l-16.6,-16.6zM1140.0,963.1l16.6,16.6l-16.6,16.6l-16.6,-16.6zM683.9,1358.0l16.6,16.6l-16.6,16.6l-16.6,-16.6zM1111.5,1179.4l16.6,16.6l-16.6,16.6l-16.6,-16.6zM900.5,1138.5l16.6,16.6l-16.6,16.6l-16.6,-16.6zM1238.2,1087.3l16.6,16.6l-16.6,16.6l-16.6,-16.6zM643.0,1522.8l16.6,16.6l-16.6,16.6l-16.6,-16.6zM1448.8,858.0l16.6,16.6l-16.6,16.6l-16.6,-16.6zM890.5,1402.8l16.6,16.6l-16.6,16.6l-16.6,-16.6zM1239.2,891.7l16.6,16.6l-16.6,16.6l-16.6,-16.6zM1242.3,1067.7l16.6,16.6l-16.6,16.6l-16.6,-16.6zM922.1,1138.5l16.6,16.6l-16.6,16.6l-16.6,-16.6zM1254.3,1044.2l16.6,16.6l-16.6,16.6l-16.6,-16.6zM1129.4,1156.5l16.6,16.6l-16.6,16.6l-16.6,-16.6zM1152.9,1088.4l16.6,16.6l-16.6,16.6l-16.6,-16.6zM1107.9,1180.9l16.6,16.6l-16.6,16.6l-16.6,-16.6zM1440.3,842.3l16.6,16.6l-16.6,16.6l-16.6,-16.6zM1180.3,968.1l16.6,16.6l-16.6,16.6l-16.6,-16.6zM1170.6,1095.7l16.6,16.6l-16.6,16.6l-16.6,-16.6zM1103.5,1014.6l16.6,16.6l-16.6,16.6l-16.6,-16.6zM940.2,1340.7l16.6,16.6l-16.6,16.6l-16.6,-16.6zM893.4,1448.5l16.6,16.6l-16.6,16.6l-16.6,-16.6zM1603.7,715.5l16.6,16.6l-16.6,16.6l-16.6,-16.6zM1329.9,953.4l16.6,16.6l-16.6,16.6l-16.6,-16.6zM704.6,1541.4l16.6,16.6l-16.6,16.6l-16.6,-16.6zM707.8,1542.9l16.6,16.6l-16.6,16.6l-16.6,-16.6zM571.2,1526.2l16.6,16.6l-16.6,16.6l-16.6,-16.6zM970.5,1289.5l16.6,16.6l-16.6,16.6l-16.6,-16.6zM1492.0,771.9l16.6,16.6l-16.6,16.6l-16.6,-16.6zM584.8,1487.7l16.6,16.6l-16.6,16.6l-16.6,-16.6zM1324.7,829.5l16.6,16.6l-16.6,16.6l-16.6,-16.6zM587.8,1515.2l16.6,16.6l-16.6,16.6l-16.6,-16.6zM640.9,1520.8l16.6,16.6l-16.6,16.6l-16.6,-16.6zM984.2,1108.9l16.6,16.6l-16.6,16.6l-16.6,-16.6zM1299.6,896.9l16.6,16.6l-16.6,16.6l-16.6,-16.6zM719.1,1270.4l16.6,16.6l-16.6,16.6l-16.6,-16.6zM823.8,1462.6l16.6,16.6l-16.6,16.6l-16.6,-16.6zM724.3,1531.8l16.6,16.6l-16.6,16.6l-16.6,-16.6zM836.3,1448.0l16.6,16.6l-16.6,16.6l-16.6,-16.6zM694.0,1539.5l16.6,16.6l-16.6,16.6l-16.6,-16.6zM949.3,1290.9l16.6,16.6l-16.6,16.6l-16.6,-16.6zM1613.8,718.4l16.6,16.6l-16.6,16.6l-16.6,-16.6zM1476.8,784.9l16.6,16.6l-16.6,16.6l-16.6,-16.6zM1519.6,768.0l16.6,16.6l-16.6,16.6l-16.6,-16.6zM1187.8,992.6l16.6,16.6l-16.6,16.6l-16.6,-16.6zM1350.8,959.7l16.6,16.6l-16.6,16.6l-16.6,-16.6zM1052.8,1241.2l16.6,16.6l-16.6,16.6l-16.6,-16.6zM624.3,1527.1l16.6,16.6l-16.6,16.6l-16.6,-16.6zM604.7,1494.8l16.6,16.6l-16.6,16.6l-16.6,-16.6zM596.2,1508.0l16.6,16.6l-16.6,16.6l-16.6,-16.6zM1272.7,909.0l16.6,16.6l-16.6,16.6l-16.6,-16.6zM1145.3,1137.5l16.6,16.6l-16.6,16.6l-16.6,-16.6zM1728.9,631.3l16.6,16.6l-16.6,16.6l-16.6,-16.6zM927.0,1131.0l16.6,16.6l-16.6,16.6l-16.6,-16.6zM948.5,1110.4l16.6,16.6l-16.6,16.6l-16.6,-16.6zM1016.7,1264.4l16.6,16.6l-16.6,16.6l-16.6,-16.6zM1709.3,649.9l16.6,16.6l-16.6,16.6l-16.6,-16.6zM1387.8,873.9l16.6,16.6l-16.6,16.6l-16.6,-16.6zM1102.0,1086.6l16.6,16.6l-16.6,16.6l-16.6,-16.6zM1364.5,922.0l16.6,16.6l-16.6,16.6l-16.6,-16.6zM1196.0,997.2l16.6,16.6l-16.6,16.6l-16.6,-16.6zM1249.9,904.2l16.6,16.6l-16.6,16.6l-16.6,-16.6zM1722.3,642.4l16.6,16.6l-16.6,16.6l-16.6,-16.6zM1361.3,926.9l16.6,16.6l-16.6,16.6l-16.6,-16.6zM1555.0,777.2l16.6,16.6l-16.6,16.6l-16.6,-16.6zM941.8,1322.1l16.6,16.6l-16.6,16.6l-16.6,-16.6zM1201.5,958.5l16.6,16.6l-16.6,16.6l-16.6,-16.6zM613.6,1451.3l16.6,16.6l-16.6,16.6l-16.6,-16.6zM701.9,1528.8l16.6,16.6l-16.6,16.6l-16.6,-16.6zM904.8,1401.8l16.6,16.6l-16.6,16.6l-16.6,-16.6zM1605.5,720.9l16.6,16.6l-16.6,16.6l-16.6,-16.6zM607.4,1438.5l16.6,16.6l-16.6,16.6l-16.6,-16.6zM1338.2,950.0l16.6,16.6l-16.6,16.6l-16.6,-16.6zM940.3,1326.2l16.6,16.6l-16.6,16.6l-16.6,-16.6zM1026.2,1057.9l16.6,16.6l-16.6,16.6l-16.6,-16.6zM1057.0,1181.3l16.6,16.6l-16.6,16.6l-16.6,-16.6zM969.8,1111.8l16.6,16.6l-16.6,16.6l-16.6,-16.6zM943.4,1289.8l16.6,16.6l-16.6,16.6l-16.6,-16.6zM1033.6,1071.5l16.6,16.6l-16.6,16.6l-16.6,-16.6zM1418.8,830.2l16.6,16.6l-16.6,16.6l-16.6,-16.6zM1154.5,979.9l16.6,16.6l-16.6,16.6l-16.6,-16.6zM1043.1,1256.5l16.6,16.6l-16.6,16.6l-16.6,-16.6zM1654.2,679.2l16.6,16.6l-16.6,16.6l-16.6,-16.6zM1367.8,860.1l16.6,16.6l-16.6,16.6l-16.6,-16.6zM933.4,1154.1l16.6,16.6l-16.6,16.6l-16.6,-16.6zM1402.1,855.6l16.6,16.6l-16.6,16.6l-16.6,-16.6zM1035.9,1061.1l16.6,16.6l-16.6,16.6l-16.6,-16.6zM897.4,1436.3l16.6,16.6l-16.6,16.6l-16.6,-16.6zM950.8,1311.6l16.6,16.6l-16.6,16.6l-16.6,-16.6zM1236.1,910.9l16.6,16.6l-16.6,16.6l-16.6,-16.6zM630.3,1406.8l16.6,16.6l-16.6,16.6l-16.6,-16.6zM1371.2,882.0l16.6,16.6l-16.6,16.6l-16.6,-16.6zM1047.9,1210.4l16.6,16.6l-16.6,16.6l-16.6,-16.6zM600.6,1502.7l16.6,16.6l-16.6,16.6l-16.6,-16.6zM1638.6,702.7l16.6,16.6l-16.6,16.6l-16.6,-16.6zM898.4,1137.4l16.6,16.6l-16.6,16.6l-16.6,-16.6zM1579.2,732.4l16.6,16.6l-16.6,16.6l-16.6,-16.6zM809.1,1518.6l16.6,16.6l-16.6,16.6l-16.6,-16.6zM1031.1,1081.1l16.6,16.6l-16.6,16.6l-16.6,-16.6zM799.5,1493.0l16.6,16.6l-16.6,16.6l-16.6,-16.6zM942.4,1337.4l16.6,16.6l-16.6,16.6l-16.6,-16.6zM991.9,1094.1l16.6,16.6l-16.6,16.6l-16.6,-16.6zM1347.7,908.9l16.6,16.6l-16.6,16.6l-16.6,-16.6zM947.7,1113.1l16.6,16.6l-16.6,16.6l-16.6,-16.6zM1301.7,914.7l16.6,16.6l-16.6,16.6l-16.6,-16.6zM937.5,1152.3l16.6,16.6l-16.6,16.6l-16.6,-16.6zM1078.8,1185.7l16.6,16.6l-16.6,16.6l-16.6,-16.6zM1509.3,785.9l16.6,16.6l-16.6,16.6l-16.6,-16.6zM1666.9,674.6l16.6,16.6l-16.6,16.6l-16.6,-16.6zM1299.1,996.0l16.6,16.6l-16.6,16.6l-16.6,-16.6zM1414.1,827.1l16.6,16.6l-16.6,16.6l-16.6,-16.6zM701.3,1329.2l16.6,16.6l-16.6,16.6l-16.6,-16.6zM1121.6,1168.4l16.6,16.6l-16.6,16.6l-16.6,-16.6zM640.9,1522.1l16.6,16.6l-16.6,16.6l-16.6,-16.6zM971.8,1290.9l16.6,16.6l-16.6,16.6l-16.6,-16.6zM1069.2,1212.8l16.6,16.6l-16.6,16.6l-16.6,-16.6zM1299.0,914.8l16.6,16.6l-16.6,16.6l-16.6,-16.6zM1186.5,985.2l16.6,16.6l-16.6,16.6l-16.6,-16.6zM823.9,1462.3l16.6,16.6l-16.6,16.6l-16.6,-16.6zM1052.0,1200.6l16.6,16.6l-16.6,16.6l-16.6,-16.6zM1636.7,702.9l16.6,16.6l-16.6,16.6l-16.6,-16.6zM1447.3,859.8l16.6,16.6l-16.6,16.6l-16.6,-16.6zM860.2,1428.8l16.6,16.6l-16.6,16.6l-16.6,-16.6zM1023.8,1061.9l16.6,16.6l-16.6,16.6l-16.6,-16.6zM1664.8,670.6l16.6,16.6l-16.6,16.6l-16.6,-16.6zM1673.1,680.1l16.6,16.6l-16.6,16.6l-16.6,-16.6zM859.5,1167.6l16.6,16.6l-16.6,16.6l-16.6,-16.6zM814.9,1214.1l16.6,16.6l-16.6,16.6l-16.6,-16.6zM793.5,1516.1l16.6,16.6l-16.6,16.6l-16.6,-16.6zM757.1,1255.1l16.6,16.6l-16.6,16.6l-16.6,-16.6zM832.3,1193.6l16.6,16.6l-16.6,16.6l-16.6,-16.6zM1335.4,854.5l16.6,16.6l-16.6,16.6l-16.6,-16.6zM833.6,1425.2l16.6,16.6l-16.6,16.6l-16.6,-16.6zM1256.8,1032.1l16.6,16.6l-16.6,16.6l-16.6,-16.6zM1019.9,1085.2l16.6,16.6l-16.6,16.6l-16.6,-16.6zM1108.2,1172.3l16.6,16.6l-16.6,16.6l-16.6,-16.6zM1349.1,941.9l16.6,16.6l-16.6,16.6l-16.6,-16.6zM708.4,1335.0l16.6,16.6l-16.6,16.6l-16.6,-16.6zM950.2,1337.8l16.6,16.6l-16.6,16.6l-16.6,-16.6zM1768.9,597.5l16.6,16.6l-16.6,16.6l-16.6,-16.6zM1368.4,857.5l16.6,16.6l-16.6,16.6l-16.6,-16.6zM1365.5,908.8l16.6,16.6l-16.6,16.6l-16.6,-16.6zM1340.2,836.5l16.6,16.6l-16.6,16.6l-16.6,-16.6zM1103.0,1174.6l16.6,16.6l-16.6,16.6l-16.6,-16.6zM1138.7,963.8l16.6,16.6l-16.6,16.6l-16.6,-16.6zM861.1,1443.8l16.6,16.6l-16.6,16.6l-16.6,-16.6zM911.5,1394.3l16.6,16.6l-16.6,16.6l-16.6,-16.6zM1176.9,981.0l16.6,16.6l-16.6,16.6l-16.6,-16.6zM1233.4,1089.2l16.6,16.6l-16.6,16.6l-16.6,-16.6zM606.1,1472.9l16.6,16.6l-16.6,16.6l-16.6,-16.6zM1135.8,1092.2l16.6,16.6l-16.6,16.6l-16.6,-16.6zM681.1,1351.1l16.6,16.6l-16.6,16.6l-16.6,-16.6zM782.2,1236.4l16.6,16.6l-16.6,16.6l-16.6,-16.6zM988.9,1109.7l16.6,16.6l-16.6,16.6l-16.6,-16.6zM793.4,1221.9l16.6,16.6l-16.6,16.6l-16.6,-16.6zM737.8,1522.6l16.6,16.6l-16.6,16.6l-16.6,-16.6zM1355.5,936.8l16.6,16.6l-16.6,16.6l-16.6,-16.6zM944.7,1091.1l16.6,16.6l-16.6,16.6l-16.6,-16.6zM1274.3,901.9l16.6,16.6l-16.6,16.6l-16.6,-16.6zM1169.4,1126.3l16.6,16.6l-16.6,16.6l-16.6,-16.6zM935.0,1367.3l16.6,16.6l-16.6,16.6l-16.6,-16.6zM815.2,1513.3l16.6,16.6l-16.6,16.6l-16.6,-16.6zM1525.0,769.9l16.6,16.6l-16.6,16.6l-16.6,-16.6zM622.8,1445.3l16.6,16.6l-16.6,16.6l-16.6,-16.6zM1385.0,917.5l16.6,16.6l-16.6,16.6l-16.6,-16.6zM889.6,1157.5l16.6,16.6l-16.6,16.6l-16.6,-16.6zM853.5,1227.1l16.6,16.6l-16.6,16.6l-16.6,-16.6zM1171.0,954.7l16.6,16.6l-16.6,16.6l-16.6,-16.6zM634.5,1522.4l16.6,16.6l-16.6,16.6l-16.6,-16.6zM1132.4,1093.6l16.6,16.6l-16.6,16.6l-16.6,-16.6zM1251.6,918.6l16.6,16.6l-16.6,16.6l-16.6,-16.6zM1535.2,766.9l16.6,16.6l-16.6,16.6l-16.6,-16.6zM891.1,1407.8l16.6,16.6l-16.6,16.6l-16.6,-16.6zM644.6,1384.4l16.6,16.6l-16.6,16.6l-16.6,-16.6zM1266.4,1022.2l16.6,16.6l-16.6,16.6l-16.6,-16.6zM1431.3,762.0l16.6,16.6l-16.6,16.6l-16.6,-16.6zM1077.0,1200.8l16.6,16.6l-16.6,16.6l-16.6,-16.6zM777.4,1509.1l16.6,16.6l-16.6,16.6l-16.6,-16.6zM827.9,1194.8l16.6,16.6l-16.6,16.6l-16.6,-16.6zM1365.7,860.8l16.6,16.6l-16.6,16.6l-16.6,-16.6zM918.8,1139.7l16.6,16.6l-16.6,16.6l-16.6,-16.6zM1259.1,1030.0l16.6,16.6l-16.6,16.6l-16.6,-16.6zM1573.3,740.2l16.6,16.6l-16.6,16.6l-16.6,-16.6zM1228.6,911.3l16.6,16.6l-16.6,16.6l-16.6,-16.6zM1057.2,1040.3l16.6,16.6l-16.6,16.6l-16.6,-16.6zM1367.6,844.4l16.6,16.6l-16.6,16.6l-16.6,-16.6zM1270.9,1041.1l16.6,16.6l-16.6,16.6l-16.6,-16.6zM877.0,1431.1l16.6,16.6l-16.6,16.6l-16.6,-16.6zM1460.3,783.8l16.6,16.6l-16.6,16.6l-16.6,-16.6zM1386.0,890.6l16.6,16.6l-16.6,16.6l-16.6,-16.6zM1316.6,834.1l16.6,16.6l-16.6,16.6l-16.6,-16.6zM590.4,1511.5l16.6,16.6l-16.6,16.6l-16.6,-16.6zM1238.7,896.7l16.6,16.6l-16.6,16.6l-16.6,-16.6zM1398.2,865.7l16.6,16.6l-16.6,16.6l-16.6,-16.6zM705.7,1312.5l16.6,16.6l-16.6,16.6l-16.6,-16.6zM1500.1,783.9l16.6,16.6l-16.6,16.6l-16.6,-16.6zM1066.4,1190.7l16.6,16.6l-16.6,16.6l-16.6,-16.6zM1443.0,775.3l16.6,16.6l-16.6,16.6l-16.6,-16.6zM1445.7,841.7l16.6,16.6l-16.6,16.6l-16.6,-16.6zM1004.2,1087.5l16.6,16.6l-16.6,16.6l-16.6,-16.6zM1010.4,1260.9l16.6,16.6l-16.6,16.6l-16.6,-16.6zM1623.6,717.7l16.6,16.6l-16.6,16.6l-16.6,-16.6zM907.5,1135.5l16.6,16.6l-16.6,16.6l-16.6,-16.6zM1179.5,984.5l16.6,16.6l-16.6,16.6l-16.6,-16.6zM1125.4,1151.1l16.6,16.6l-16.6,16.6l-16.6,-16.6zM1088.1,1073.6l16.6,16.6l-16.6,16.6l-16.6,-16.6zM1026.4,1272.8l16.6,16.6l-16.6,16.6l-16.6,-16.6zM1213.5,910.5l16.6,16.6l-16.6,16.6l-16.6,-16.6zM1040.9,1058.5l16.6,16.6l-16.6,16.6l-16.6,-16.6zM1215.2,912.6l16.6,16.6l-16.6,16.6l-16.6,-16.6zM638.2,1406.4l16.6,16.6l-16.6,16.6l-16.6,-16.6zM816.3,1465.0l16.6,16.6l-16.6,16.6l-16.6,-16.6zM1389.8,853.7l16.6,16.6l-16.6,16.6l-16.6,-16.6zM634.9,1429.3l16.6,16.6l-16.6,16.6l-16.6,-16.6zM895.9,1410.2l16.6,16.6l-16.6,16.6l-16.6,-16.6zM1649.8,674.5l16.6,16.6l-16.6,16.6l-16.6,-16.6zM616.8,1423.9l16.6,16.6l-16.6,16.6l-16.6,-16.6zM670.7,1517.0l16.6,16.6l-16.6,16.6l-16.6,-16.6zM1422.4,844.5l16.6,16.6l-16.6,16.6l-16.6,-16.6zM1221.5,912.1l16.6,16.6l-16.6,16.6l-16.6,-16.6zM828.0,1206.0l16.6,16.6l-16.6,16.6l-16.6,-16.6zM590.8,1525.1l16.6,16.6l-16.6,16.6l-16.6,-16.6zM809.2,1496.7l16.6,16.6l-16.6,16.6l-16.6,-16.6zM608.8,1455.1l16.6,16.6l-16.6,16.6l-16.6,-16.6zM1143.5,1125.3l16.6,16.6l-16.6,16.6l-16.6,-16.6zM710.0,1308.9l16.6,16.6l-16.6,16.6l-16.6,-16.6zM1403.2,875.2l16.6,16.6l-16.6,16.6l-16.6,-16.6zM1156.2,1103.8l16.6,16.6l-16.6,16.6l-16.6,-16.6zM1020.7,1091.8l16.6,16.6l-16.6,16.6l-16.6,-16.6zM1359.1,932.9l16.6,16.6l-16.6,16.6l-16.6,-16.6zM865.5,1168.7l16.6,16.6l-16.6,16.6l-16.6,-16.6zM1369.4,842.6l16.6,16.6l-16.6,16.6l-16.6,-16.6zM1209.1,1072.3l16.6,16.6l-16.6,16.6l-16.6,-16.6zM1442.6,878.1l16.6,16.6l-16.6,16.6l-16.6,-16.6zM1007.6,1289.1l16.6,16.6l-16.6,16.6l-16.6,-16.6zM669.6,1366.4l16.6,16.6l-16.6,16.6l-16.6,-16.6zM1532.6,786.4l16.6,16.6l-16.6,16.6l-16.6,-16.6zM650.2,1531.9l16.6,16.6l-16.6,16.6l-16.6,-16.6zM1198.9,964.9l16.6,16.6l-16.6,16.6l-16.6,-16.6zM697.9,1344.1l16.6,16.6l-16.6,16.6l-16.6,-16.6zM1274.0,901.0l16.6,16.6l-16.6,16.6l-16.6,-16.6zM1052.2,1219.3l16.6,16.6l-16.6,16.6l-16.6,-16.6zM1112.4,1024.5l16.6,16.6l-16.6,16.6l-16.6,-16.6zM756.6,1533.4l16.6,16.6l-16.6,16.6l-16.6,-16.6zM1057.2,1055.4l16.6,16.6l-16.6,16.6l-16.6,-16.6zM972.0,1307.8l16.6,16.6l-16.6,16.6l-16.6,-16.6zM942.8,1311.3l16.6,16.6l-16.6,16.6l-16.6,-16.6zM1350.2,864.2l16.6,16.6l-16.6,16.6l-16.6,-16.6zM1189.2,1098.3l16.6,16.6l-16.6,16.6l-16.6,-16.6zM1478.8,756.4l16.6,16.6l-16.6,16.6l-16.6,-16.6zM1124.8,1003.5l16.6,16.6l-16.6,16.6l-16.6,-16.6zM1708.7,653.9l16.6,16.6l-16.6,16.6l-16.6,-16.6zM625.7,1431.4l16.6,16.6l-16.6,16.6l-16.6,-16.6zM751.6,1530.6l16.6,16.6l-16.6,16.6l-16.6,-16.6zM1499.9,767.2l16.6,16.6l-16.6,16.6l-16.6,-16.6zM844.4,1437.8l16.6,16.6l-16.6,16.6l-16.6,-16.6zM857.5,1442.1l16.6,16.6l-16.6,16.6l-16.6,-16.6zM876.4,1175.5l16.6,16.6l-16.6,16.6l-16.6,-16.6zM1142.9,983.5l16.6,16.6l-16.6,16.6l-16.6,-16.6zM1093.7,1043.6l16.6,16.6l-16.6,16.6l-16.6,-16.6zM1396.3,904.2l16.6,16.6l-16.6,16.6l-16.6,-16.6zM967.8,1330.6l16.6,16.6l-16.6,16.6l-16.6,-16.6zM1484.7,751.3l16.6,16.6l-16.6,16.6l-16.6,-16.6zM1548.4,756.4l16.6,16.6l-16.6,16.6l-16.6,-16.6zM1180.2,990.1l16.6,16.6l-16.6,16.6l-16.6,-16.6zM1161.0,952.2l16.6,16.6l-16.6,16.6l-16.6,-16.6zM923.1,1125.9l16.6,16.6l-16.6,16.6l-16.6,-16.6zM929.6,1119.4l16.6,16.6l-16.6,16.6l-16.6,-16.6zM582.6,1533.6l16.6,16.6l-16.6,16.6l-16.6,-16.6zM904.0,1119.7l16.6,16.6l-16.6,16.6l-16.6,-16.6zM587.9,1503.1l16.6,16.6l-16.6,16.6l-16.6,-16.6zM853.3,1224.1l16.6,16.6l-16.6,16.6l-16.6,-16.6zM938.9,1097.4l16.6,16.6l-16.6,16.6l-16.6,-16.6zM669.4,1537.4l16.6,16.6l-16.6,16.6l-16.6,-16.6zM728.4,1540.0l16.6,16.6l-16.6,16.6l-16.6,-16.6zM1583.6,733.8l16.6,16.6l-16.6,16.6l-16.6,-16.6zM935.6,1353.1l16.6,16.6l-16.6,16.6l-16.6,-16.6zM1321.4,861.3l16.6,16.6l-16.6,16.6l-16.6,-16.6zM1129.7,1004.9l16.6,16.6l-16.6,16.6l-16.6,-16.6zM843.1,1415.5l16.6,16.6l-16.6,16.6l-16.6,-16.6zM885.4,1147.6l16.6,16.6l-16.6,16.6l-16.6,-16.6zM1077.3,1048.6l16.6,16.6l-16.6,16.6l-16.6,-16.6zM1446.7,851.6l16.6,16.6l-16.6,16.6l-16.6,-16.6zM1415.8,830.0l16.6,16.6l-16.6,16.6l-16.6,-16.6zM1004.0,1089.7l16.6,16.6l-16.6,16.6l-16.6,-16.6zM1100.4,1080.9l16.6,16.6l-16.6,16.6l-16.6,-16.6zM1615.2,719.5l16.6,16.6l-16.6,16.6l-16.6,-16.6zM855.5,1439.9l16.6,16.6l-16.6,16.6l-16.6,-16.6zM1129.2,1127.0l16.6,16.6l-16.6,16.6l-16.6,-16.6zM802.6,1496.4l16.6,16.6l-16.6,16.6l-16.6,-16.6zM1276.6,910.8l16.6,16.6l-16.6,16.6l-16.6,-16.6zM1379.1,924.6l16.6,16.6l-16.6,16.6l-16.6,-16.6zM987.4,1289.9l16.6,16.6l-16.6,16.6l-16.6,-16.6zM657.3,1538.3l16.6,16.6l-16.6,16.6l-16.6,-16.6zM1458.5,789.2l16.6,16.6l-16.6,16.6l-16.6,-16.6zM1047.9,1049.0l16.6,16.6l-16.6,16.6l-16.6,-16.6zM1147.4,1088.2l16.6,16.6l-16.6,16.6l-16.6,-16.6zM1459.7,785.1l16.6,16.6l-16.6,16.6l-16.6,-16.6zM1223.8,1084.8l16.6,16.6l-16.6,16.6l-16.6,-16.6zM1022.7,1070.8l16.6,16.6l-16.6,16.6l-16.6,-16.6zM1258.7,1039.5l16.6,16.6l-16.6,16.6l-16.6,-16.6zM1002.0,1292.4l16.6,16.6l-16.6,16.6l-16.6,-16.6zM587.0,1507.6l16.6,16.6l-16.6,16.6l-16.6,-16.6zM609.1,1433.9l16.6,16.6l-16.6,16.6l-16.6,-16.6zM837.7,1434.7l16.6,16.6l-16.6,16.6l-16.6,-16.6zM1676.2,671.6l16.6,16.6l-16.6,16.6l-16.6,-16.6zM1128.6,1003.3l16.6,16.6l-16.6,16.6l-16.6,-16.6zM1188.6,1095.2l16.6,16.6l-16.6,16.6l-16.6,-16.6zM1145.7,1124.7l16.6,16.6l-16.6,16.6l-16.6,-16.6zM717.4,1307.6l16.6,16.6l-16.6,16.6l-16.6,-16.6zM1141.2,982.5l16.6,16.6l-16.6,16.6l-16.6,-16.6zM750.9,1262.6l16.6,16.6l-16.6,16.6l-16.6,-16.6zM788.6,1503.8l16.6,16.6l-16.6,16.6l-16.6,-16.6zM1116.2,1087.9l16.6,16.6l-16.6,16.6l-16.6,-16.6zM672.7,1521.9l16.6,16.6l-16.6,16.6l-16.6,-16.6zM919.7,1349.3l16.6,16.6l-16.6,16.6l-16.6,-16.6zM1607.5,739.1l16.6,16.6l-16.6,16.6l-16.6,-16.6zM744.2,1277.4l16.6,16.6l-16.6,16.6l-16.6,-16.6zM601.8,1505.9l16.6,16.6l-16.6,16.6l-16.6,-16.6zM1723.2,623.6l16.6,16.6l-16.6,16.6l-16.6,-16.6zM1039.9,1041.8l16.6,16.6l-16.6,16.6l-16.6,-16.6zM837.7,1225.2l16.6,16.6l-16.6,16.6l-16.6,-16.6zM1094.3,1180.4l16.6,16.6l-16.6,16.6l-16.6,-16.6zM1018.6,1262.4l16.6,16.6l-16.6,16.6l-16.6,-16.6zM1268.1,1034.9l16.6,16.6l-16.6,16.6l-16.6,-16.6zM813.5,1497.3l16.6,16.6l-16.6,16.6l-16.6,-16.6zM1307.7,914.7l16.6,16.6l-16.6,16.6l-16.6,-16.6zM935.2,1108.8l16.6,16.6l-16.6,16.6l-16.6,-16.6zM1042.0,1240.8l16.6,16.6l-16.6,16.6l-16.6,-16.6zM1051.6,1053.8l16.6,16.6l-16.6,16.6l-16.6,-16.6zM1275.3,1011.6l16.6,16.6l-16.6,16.6l-16.6,-16.6zM948.8,1095.4l16.6,16.6l-16.6,16.6l-16.6,-16.6zM1568.1,729.4l16.6,16.6l-16.6,16.6l-16.6,-16.6zM733.4,1528.0l16.6,16.6l-16.6,16.6l-16.6,-16.6zM815.1,1505.9l16.6,16.6l-16.6,16.6l-16.6,-16.6zM1455.0,882.0l16.6,16.6l-16.6,16.6l-16.6,-16.6zM1209.7,1093.3l16.6,16.6l-16.6,16.6l-16.6,-16.6zM805.1,1515.7l16.6,16.6l-16.6,16.6l-16.6,-16.6zM595.4,1508.0l16.6,16.6l-16.6,16.6l-16.6,-16.6zM974.5,1291.4l16.6,16.6l-16.6,16.6l-16.6,-16.6zM681.9,1536.5l16.6,16.6l-16.6,16.6l-16.6,-16.6zM1532.5,754.0l16.6,16.6l-16.6,16.6l-16.6,-16.6zM1110.4,1029.4l16.6,16.6l-16.6,16.6l-16.6,-16.6zM951.1,1119.9l16.6,16.6l-16.6,16.6l-16.6,-16.6zM665.1,1390.2l16.6,16.6l-16.6,16.6l-16.6,-16.6zM1079.6,1188.2l16.6,16.6l-16.6,16.6l-16.6,-16.6zM1689.7,645.6l16.6,16.6l-16.6,16.6l-16.6,-16.6zM607.3,1481.3l16.6,16.6l-16.6,16.6l-16.6,-16.6zM1160.8,1124.6l16.6,16.6l-16.6,16.6l-16.6,-16.6zM630.3,1439.2l16.6,16.6l-16.6,16.6l-16.6,-16.6zM1178.1,977.9l16.6,16.6l-16.6,16.6l-16.6,-16.6zM873.6,1182.1l16.6,16.6l-16.6,16.6l-16.6,-16.6zM653.6,1380.7l16.6,16.6l-16.6,16.6l-16.6,-16.6zM1520.7,771.3l16.6,16.6l-16.6,16.6l-16.6,-16.6zM1153.0,974.0l16.6,16.6l-16.6,16.6l-16.6,-16.6zM1164.3,1116.1l16.6,16.6l-16.6,16.6l-16.6,-16.6zM1426.1,843.3l16.6,16.6l-16.6,16.6l-16.6,-16.6zM1468.1,770.1l16.6,16.6l-16.6,16.6l-16.6,-16.6zM1422.8,884.2l16.6,16.6l-16.6,16.6l-16.6,-16.6zM1087.7,1183.3l16.6,16.6l-16.6,16.6l-16.6,-16.6zM944.8,1342.2l16.6,16.6l-16.6,16.6l-16.6,-16.6zM708.3,1539.1l16.6,16.6l-16.6,16.6l-16.6,-16.6zM968.2,1288.0l16.6,16.6l-16.6,16.6l-16.6,-16.6zM1352.6,843.1l16.6,16.6l-16.6,16.6l-16.6,-16.6zM1199.2,978.5l16.6,16.6l-16.6,16.6l-16.6,-16.6zM833.8,1219.7l16.6,16.6l-16.6,16.6l-16.6,-16.6zM1530.1,766.0l16.6,16.6l-16.6,16.6l-16.6,-16.6zM1277.7,1014.5l16.6,16.6l-16.6,16.6l-16.6,-16.6zM1494.2,758.5l16.6,16.6l-16.6,16.6l-16.6,-16.6zM849.3,1228.5l16.6,16.6l-16.6,16.6l-16.6,-16.6zM601.1,1478.3l16.6,16.6l-16.6,16.6l-16.6,-16.6zM939.9,1337.8l16.6,16.6l-16.6,16.6l-16.6,-16.6zM1679.6,678.2l16.6,16.6l-16.6,16.6l-16.6,-16.6zM770.6,1514.1l16.6,16.6l-16.6,16.6l-16.6,-16.6zM1433.0,781.5l16.6,16.6l-16.6,16.6l-16.6,-16.6zM720.0,1307.9l16.6,16.6l-16.6,16.6l-16.6,-16.6zM666.1,1357.9l16.6,16.6l-16.6,16.6l-16.6,-16.6zM829.5,1204.0l16.6,16.6l-16.6,16.6l-16.6,-16.6zM1143.1,964.0l16.6,16.6l-16.6,16.6l-16.6,-16.6zM1212.3,918.4l16.6,16.6l-16.6,16.6l-16.6,-16.6zM1356.1,864.9l16.6,16.6l-16.6,16.6l-16.6,-16.6zM898.2,1141.9l16.6,16.6l-16.6,16.6l-16.6,-16.6zM904.4,1392.5l16.6,16.6l-16.6,16.6l-16.6,-16.6zM1519.1,802.7l16.6,16.6l-16.6,16.6l-16.6,-16.6zM964.8,1114.6l16.6,16.6l-16.6,16.6l-16.6,-16.6zM1319.5,832.4l16.6,16.6l-16.6,16.6l-16.6,-16.6zM1338.7,870.9l16.6,16.6l-16.6,16.6l-16.6,-16.6zM1377.5,907.6l16.6,16.6l-16.6,16.6l-16.6,-16.6zM808.0,1507.7l16.6,16.6l-16.6,16.6l-16.6,-16.6zM811.5,1469.6l16.6,16.6l-16.6,16.6l-16.6,-16.6zM892.4,1172.4l16.6,16.6l-16.6,16.6l-16.6,-16.6zM1188.0,981.6l16.6,16.6l-16.6,16.6l-16.6,-16.6zM1200.9,965.4l16.6,16.6l-16.6,16.6l-16.6,-16.6zM807.8,1227.2l16.6,16.6l-16.6,16.6l-16.6,-16.6zM1207.7,947.4l16.6,16.6l-16.6,16.6l-16.6,-16.6zM1109.6,1170.5l16.6,16.6l-16.6,16.6l-16.6,-16.6zM1346.8,873.5l16.6,16.6l-16.6,16.6l-16.6,-16.6zM1700.5,649.0l16.6,16.6l-16.6,16.6l-16.6,-16.6zM1548.9,780.2l16.6,16.6l-16.6,16.6l-16.6,-16.6zM1414.8,832.5l16.6,16.6l-16.6,16.6l-16.6,-16.6zM953.7,1284.6l16.6,16.6l-16.6,16.6l-16.6,-16.6zM1142.9,1139.3l16.6,16.6l-16.6,16.6l-16.6,-16.6zM644.8,1424.4l16.6,16.6l-16.6,16.6l-16.6,-16.6zM1338.1,871.2l16.6,16.6l-16.6,16.6l-16.6,-16.6zM624.7,1436.9l16.6,16.6l-16.6,16.6l-16.6,-16.6zM1443.1,758.4l16.6,16.6l-16.6,16.6l-16.6,-16.6zM1038.0,1241.8l16.6,16.6l-16.6,16.6l-16.6,-16.6zM1354.6,916.6l16.6,16.6l-16.6,16.6l-16.6,-16.6zM1489.4,761.7l16.6,16.6l-16.6,16.6l-16.6,-16.6zM605.5,1447.2l16.6,16.6l-16.6,16.6l-16.6,-16.6zM1415.2,888.7l16.6,16.6l-16.6,16.6l-16.6,-16.6zM1156.6,1101.8l16.6,16.6l-16.6,16.6l-16.6,-16.6zM1252.5,1060.2l16.6,16.6l-16.6,16.6l-16.6,-16.6zM852.7,1224.2l16.6,16.6l-16.6,16.6l-16.6,-16.6zM835.6,1448.9l16.6,16.6l-16.6,16.6l-16.6,-16.6zM1121.1,1136.4l16.6,16.6l-16.6,16.6l-16.6,-16.6zM1469.9,808.0l16.6,16.6l-16.6,16.6l-16.6,-16.6zM754.8,1519.9l16.6,16.6l-16.6,16.6l-16.6,-16.6zM1339.7,860.2l16.6,16.6l-16.6,16.6l-16.6,-16.6zM1429.5,772.4l16.6,16.6l-16.6,16.6l-16.6,-16.6zM1110.9,1063.2l16.6,16.6l-16.6,16.6l-16.6,-16.6zM1254.1,1051.2l16.6,16.6l-16.6,16.6l-16.6,-16.6zM1302.8,993.9l16.6,16.6l-16.6,16.6l-16.6,-16.6zM797.1,1221.0l16.6,16.6l-16.6,16.6l-16.6,-16.6zM1219.7,1087.2l16.6,16.6l-16.6,16.6l-16.6,-16.6zM904.1,1121.9l16.6,16.6l-16.6,16.6l-16.6,-16.6zM1491.3,750.3l16.6,16.6l-16.6,16.6l-16.6,-16.6zM1606.2,729.1l16.6,16.6l-16.6,16.6l-16.6,-16.6zM1054.4,1236.0l16.6,16.6l-16.6,16.6l-16.6,-16.6zM1302.1,1010.8l16.6,16.6l-16.6,16.6l-16.6,-16.6zM1322.4,874.7l16.6,16.6l-16.6,16.6l-16.6,-16.6zM1105.9,1076.1l16.6,16.6l-16.6,16.6l-16.6,-16.6zM839.3,1216.7l16.6,16.6l-16.6,16.6l-16.6,-16.6zM997.0,1277.1l16.6,16.6l-16.6,16.6l-16.6,-16.6zM1668.0,669.1l16.6,16.6l-16.6,16.6l-16.6,-16.6zM1502.1,795.3l16.6,16.6l-16.6,16.6l-16.6,-16.6zM1225.2,1074.8l16.6,16.6l-16.6,16.6l-16.6,-16.6zM1430.2,751.5l16.6,16.6l-16.6,16.6l-16.6,-16.6zM1001.7,1273.1l16.6,16.6l-16.6,16.6l-16.6,-16.6zM1090.7,1196.1l16.6,16.6l-16.6,16.6l-16.6,-16.6zM1185.0,987.4l16.6,16.6l-16.6,16.6l-16.6,-16.6zM1327.1,831.7l16.6,16.6l-16.6,16.6l-16.6,-16.6zM1355.7,904.7l16.6,16.6l-16.6,16.6l-16.6,-16.6zM1177.9,968.3l16.6,16.6l-16.6,16.6l-16.6,-16.6zM1187.2,1080.3l16.6,16.6l-16.6,16.6l-16.6,-16.6zM1105.7,1010.2l16.6,16.6l-16.6,16.6l-16.6,-16.6zM1105.8,1029.6l16.6,16.6l-16.6,16.6l-16.6,-16.6zM793.6,1210.8l16.6,16.6l-16.6,16.6l-16.6,-16.6zM1129.8,1155.3l16.6,16.6l-16.6,16.6l-16.6,-16.6zM1531.7,805.1l16.6,16.6l-16.6,16.6l-16.6,-16.6zM1191.0,1092.4l16.6,16.6l-16.6,16.6l-16.6,-16.6zM856.4,1204.3l16.6,16.6l-16.6,16.6l-16.6,-16.6zM1579.5,733.9l16.6,16.6l-16.6,16.6l-16.6,-16.6zM1023.4,1063.0l16.6,16.6l-16.6,16.6l-16.6,-16.6zM1451.6,755.3l16.6,16.6l-16.6,16.6l-16.6,-16.6zM617.0,1531.0l16.6,16.6l-16.6,16.6l-16.6,-16.6zM609.3,1463.9l16.6,16.6l-16.6,16.6l-16.6,-16.6zM595.9,1490.7l16.6,16.6l-16.6,16.6l-16.6,-16.6zM1509.9,777.1l16.6,16.6l-16.6,16.6l-16.6,-16.6zM1453.0,854.6l16.6,16.6l-16.6,16.6l-16.6,-16.6zM731.6,1290.5l16.6,16.6l-16.6,16.6l-16.6,-16.6zM871.2,1191.3l16.6,16.6l-16.6,16.6l-16.6,-16.6zM886.3,1173.4l16.6,16.6l-16.6,16.6l-16.6,-16.6zM813.6,1465.7l16.6,16.6l-16.6,16.6l-16.6,-16.6zM1406.3,843.5l16.6,16.6l-16.6,16.6l-16.6,-16.6zM1488.5,783.6l16.6,16.6l-16.6,16.6l-16.6,-16.6zM704.1,1298.3l16.6,16.6l-16.6,16.6l-16.6,-16.6zM1413.2,822.9l16.6,16.6l-16.6,16.6l-16.6,-16.6zM934.1,1150.8l16.6,16.6l-16.6,16.6l-16.6,-16.6zM1607.9,740.9l16.6,16.6l-16.6,16.6l-16.6,-16.6zM640.1,1412.9l16.6,16.6l-16.6,16.6l-16.6,-16.6zM1605.4,733.0l16.6,16.6l-16.6,16.6l-16.6,-16.6zM919.0,1117.5l16.6,16.6l-16.6,16.6l-16.6,-16.6zM670.6,1534.2l16.6,16.6l-16.6,16.6l-16.6,-16.6zM727.7,1273.6l16.6,16.6l-16.6,16.6l-16.6,-16.6zM1424.7,769.2l16.6,16.6l-16.6,16.6l-16.6,-16.6zM1244.6,1048.2l16.6,16.6l-16.6,16.6l-16.6,-16.6zM1007.0,1103.3l16.6,16.6l-16.6,16.6l-16.6,-16.6zM1230.9,1059.2l16.6,16.6l-16.6,16.6l-16.6,-16.6zM1600.9,754.1l16.6,16.6l-16.6,16.6l-16.6,-16.6zM1397.6,905.3l16.6,16.6l-16.6,16.6l-16.6,-16.6zM1235.0,918.1l16.6,16.6l-16.6,16.6l-16.6,-16.6zM747.0,1519.3l16.6,16.6l-16.6,16.6l-16.6,-16.6zM814.2,1211.0l16.6,16.6l-16.6,16.6l-16.6,-16.6zM1578.8,727.2l16.6,16.6l-16.6,16.6l-16.6,-16.6zM623.0,1424.7l16.6,16.6l-16.6,16.6l-16.6,-16.6zM966.8,1335.3l16.6,16.6l-16.6,16.6l-16.6,-16.6zM591.7,1459.2l16.6,16.6l-16.6,16.6l-16.6,-16.6zM1053.8,1227.6l16.6,16.6l-16.6,16.6l-16.6,-16.6zM1357.2,878.0l16.6,16.6l-16.6,16.6l-16.6,-16.6zM1672.0,668.2l16.6,16.6l-16.6,16.6l-16.6,-16.6zM590.5,1540.7l16.6,16.6l-16.6,16.6l-16.6,-16.6zM707.7,1306.8l16.6,16.6l-16.6,16.6l-16.6,-16.6zM780.2,1510.6l16.6,16.6l-16.6,16.6l-16.6,-16.6zM1094.4,1050.3l16.6,16.6l-16.6,16.6l-16.6,-16.6zM650.8,1377.3l16.6,16.6l-16.6,16.6l-16.6,-16.6zM1236.0,1056.2l16.6,16.6l-16.6,16.6l-16.6,-16.6zM1282.0,908.5l16.6,16.6l-16.6,16.6l-16.6,-16.6zM1048.9,1217.9l16.6,16.6l-16.6,16.6l-16.6,-16.6zM1110.2,1094.1l16.6,16.6l-16.6,16.6l-16.6,-16.6zM1391.3,906.3l16.6,16.6l-16.6,16.6l-16.6,-16.6zM1448.5,812.3l16.6,16.6l-16.6,16.6l-16.6,-16.6zM1182.4,1078.5l16.6,16.6l-16.6,16.6l-16.6,-16.6zM1095.6,1041.7l16.6,16.6l-16.6,16.6l-16.6,-16.6zM1148.8,1113.2l16.6,16.6l-16.6,16.6l-16.6,-16.6zM1254.6,918.8l16.6,16.6l-16.6,16.6l-16.6,-16.6zM1197.2,972.6l16.6,16.6l-16.6,16.6l-16.6,-16.6zM580.8,1509.6l16.6,16.6l-16.6,16.6l-16.6,-16.6zM713.1,1286.2l16.6,16.6l-16.6,16.6l-16.6,-16.6zM1452.2,760.6l16.6,16.6l-16.6,16.6l-16.6,-16.6zM664.3,1377.4l16.6,16.6l-16.6,16.6l-16.6,-16.6zM1041.5,1054.5l16.6,16.6l-16.6,16.6l-16.6,-16.6zM1202.1,913.7l16.6,16.6l-16.6,16.6l-16.6,-16.6zM690.0,1516.2l16.6,16.6l-16.6,16.6l-16.6,-16.6zM932.1,1292.7l16.6,16.6l-16.6,16.6l-16.6,-16.6zM1170.3,953.1l16.6,16.6l-16.6,16.6l-16.6,-16.6zM1254.6,1064.1l16.6,16.6l-16.6,16.6l-16.6,-16.6zM1154.7,985.1l16.6,16.6l-16.6,16.6l-16.6,-16.6zM930.7,1130.9l16.6,16.6l-16.6,16.6l-16.6,-16.6zM1733.2,611.4l16.6,16.6l-16.6,16.6l-16.6,-16.6zM1311.9,983.0l16.6,16.6l-16.6,16.6l-16.6,-16.6zM1155.1,983.8l16.6,16.6l-16.6,16.6l-16.6,-16.6zM1151.1,949.3l16.6,16.6l-16.6,16.6l-16.6,-16.6zM1264.6,1042.8l16.6,16.6l-16.6,16.6l-16.6,-16.6zM1103.1,1052.2l16.6,16.6l-16.6,16.6l-16.6,-16.6zM1021.5,1261.8l16.6,16.6l-16.6,16.6l-16.6,-16.6zM1523.8,791.0l16.6,16.6l-16.6,16.6l-16.6,-16.6zM836.1,1412.4l16.6,16.6l-16.6,16.6l-16.6,-16.6zM1355.0,843.7l16.6,16.6l-16.6,16.6l-16.6,-16.6zM1342.5,882.6l16.6,16.6l-16.6,16.6l-16.6,-16.6zM1312.4,905.5l16.6,16.6l-16.6,16.6l-16.6,-16.6zM1349.8,967.5l16.6,16.6l-16.6,16.6l-16.6,-16.6zM978.4,1108.3l16.6,16.6l-16.6,16.6l-16.6,-16.6zM1098.1,1077.8l16.6,16.6l-16.6,16.6l-16.6,-16.6zM1267.7,1024.5l16.6,16.6l-16.6,16.6l-16.6,-16.6zM1550.1,772.7l16.6,16.6l-16.6,16.6l-16.6,-16.6zM1443.7,878.1l16.6,16.6l-16.6,16.6l-16.6,-16.6zM1057.1,1215.2l16.6,16.6l-16.6,16.6l-16.6,-16.6zM1220.0,1092.9l16.6,16.6l-16.6,16.6l-16.6,-16.6zM1300.0,909.8l16.6,16.6l-16.6,16.6l-16.6,-16.6zM577.3,1509.6l16.6,16.6l-16.6,16.6l-16.6,-16.6zM1161.3,1087.4l16.6,16.6l-16.6,16.6l-16.6,-16.6zM1565.7,742.4l16.6,16.6l-16.6,16.6l-16.6,-16.6zM1148.8,945.6l16.6,16.6l-16.6,16.6l-16.6,-16.6zM1253.9,1049.0l16.6,16.6l-16.6,16.6l-16.6,-16.6zM1114.4,1040.0l16.6,16.6l-16.6,16.6l-16.6,-16.6zM821.9,1205.1l16.6,16.6l-16.6,16.6l-16.6,-16.6zM846.7,1206.4l16.6,16.6l-16.6,16.6l-16.6,-16.6zM945.0,1305.2l16.6,16.6l-16.6,16.6l-16.6,-16.6zM979.3,1099.6l16.6,16.6l-16.6,16.6l-16.6,-16.6zM1191.0,1092.8l16.6,16.6l-16.6,16.6l-16.6,-16.6zM1273.5,916.3l16.6,16.6l-16.6,16.6l-16.6,-16.6zM902.1,1431.7l16.6,16.6l-16.6,16.6l-16.6,-16.6zM952.3,1113.0l16.6,16.6l-16.6,16.6l-16.6,-16.6zM1328.5,872.0l16.6,16.6l-16.6,16.6l-16.6,-16.6zM1116.1,1077.6l16.6,16.6l-16.6,16.6l-16.6,-16.6zM1384.3,843.8l16.6,16.6l-16.6,16.6l-16.6,-16.6zM1589.3,735.7l16.6,16.6l-16.6,16.6l-16.6,-16.6zM1493.3,764.0l16.6,16.6l-16.6,16.6l-16.6,-16.6zM833.8,1206.9l16.6,16.6l-16.6,16.6l-16.6,-16.6zM1169.0,974.1l16.6,16.6l-16.6,16.6l-16.6,-16.6zM954.9,1342.1l16.6,16.6l-16.6,16.6l-16.6,-16.6zM1396.6,911.1l16.6,16.6l-16.6,16.6l-16.6,-16.6zM588.3,1502.1l16.6,16.6l-16.6,16.6l-16.6,-16.6zM687.9,1364.2l16.6,16.6l-16.6,16.6l-16.6,-16.6zM1112.0,1083.2l16.6,16.6l-16.6,16.6l-16.6,-16.6zM917.3,1372.3l16.6,16.6l-16.6,16.6l-16.6,-16.6zM1229.2,1078.9l16.6,16.6l-16.6,16.6l-16.6,-16.6zM1013.6,1253.5l16.6,16.6l-16.6,16.6l-16.6,-16.6zM961.4,1313.9l16.6,16.6l-16.6,16.6l-16.6,-16.6zM1114.0,1034.8l16.6,16.6l-16.6,16.6l-16.6,-16.6zM905.3,1118.4l16.6,16.6l-16.6,16.6l-16.6,-16.6zM1441.6,769.5l16.6,16.6l-16.6,16.6l-16.6,-16.6zM725.1,1291.7l16.6,16.6l-16.6,16.6l-16.6,-16.6zM1487.9,790.2l16.6,16.6l-16.6,16.6l-16.6,-16.6zM812.1,1219.6l16.6,16.6l-16.6,16.6l-16.6,-16.6zM811.1,1195.6l16.6,16.6l-16.6,16.6l-16.6,-16.6zM1134.6,992.3l16.6,16.6l-16.6,16.6l-16.6,-16.6zM1581.4,742.1l16.6,16.6l-16.6,16.6l-16.6,-16.6zM1051.8,1041.9l16.6,16.6l-16.6,16.6l-16.6,-16.6zM751.8,1519.3l16.6,16.6l-16.6,16.6l-16.6,-16.6zM788.5,1510.0l16.6,16.6l-16.6,16.6l-16.6,-16.6zM1234.5,1089.2l16.6,16.6l-16.6,16.6l-16.6,-16.6zM1229.8,905.0l16.6,16.6l-16.6,16.6l-16.6,-16.6zM1163.0,1089.3l16.6,16.6l-16.6,16.6l-16.6,-16.6zM1434.8,759.0l16.6,16.6l-16.6,16.6l-16.6,-16.6zM1432.0,752.0l16.6,16.6l-16.6,16.6l-16.6,-16.6zM613.9,1452.4l16.6,16.6l-16.6,16.6l-16.6,-16.6zM1414.6,845.9l16.6,16.6l-16.6,16.6l-16.6,-16.6zM1319.5,986.2l16.6,16.6l-16.6,16.6l-16.6,-16.6zM840.7,1220.0l16.6,16.6l-16.6,16.6l-16.6,-16.6zM1589.1,725.3l16.6,16.6l-16.6,16.6l-16.6,-16.6zM1305.1,984.0l16.6,16.6l-16.6,16.6l-16.6,-16.6zM1080.5,1196.6l16.6,16.6l-16.6,16.6l-16.6,-16.6zM1098.8,1062.5l16.6,16.6l-16.6,16.6l-16.6,-16.6zM926.3,1343.1l16.6,16.6l-16.6,16.6l-16.6,-16.6zM1225.7,1095.4l16.6,16.6l-16.6,16.6l-16.6,-16.6zM774.7,1246.8l16.6,16.6l-16.6,16.6l-16.6,-16.6zM987.2,1117.5l16.6,16.6l-16.6,16.6l-16.6,-16.6zM865.0,1197.3l16.6,16.6l-16.6,16.6l-16.6,-16.6zM596.8,1510.2l16.6,16.6l-16.6,16.6l-16.6,-16.6zM1601.8,706.6l16.6,16.6l-16.6,16.6l-16.6,-16.6zM1392.2,838.9l16.6,16.6l-16.6,16.6l-16.6,-16.6zM1177.8,1088.5l16.6,16.6l-16.6,16.6l-16.6,-16.6zM876.3,1181.1l16.6,16.6l-16.6,16.6l-16.6,-16.6zM1521.8,777.3l16.6,16.6l-16.6,16.6l-16.6,-16.6zM1326.6,942.4l16.6,16.6l-16.6,16.6l-16.6,-16.6zM1590.7,739.2l16.6,16.6l-16.6,16.6l-16.6,-16.6zM1459.0,801.4l16.6,16.6l-16.6,16.6l-16.6,-16.6zM836.6,1218.8l16.6,16.6l-16.6,16.6l-16.6,-16.6zM922.7,1145.9l16.6,16.6l-16.6,16.6l-16.6,-16.6zM1328.6,954.2l16.6,16.6l-16.6,16.6l-16.6,-16.6zM1370.2,899.0l16.6,16.6l-16.6,16.6l-16.6,-16.6zM1384.9,922.2l16.6,16.6l-16.6,16.6l-16.6,-16.6zM1012.1,1089.7l16.6,16.6l-16.6,16.6l-16.6,-16.6zM1467.3,769.4l16.6,16.6l-16.6,16.6l-16.6,-16.6zM1102.0,1006.6l16.6,16.6l-16.6,16.6l-16.6,-16.6zM706.9,1323.1l16.6,16.6l-16.6,16.6l-16.6,-16.6zM1434.3,768.1l16.6,16.6l-16.6,16.6l-16.6,-16.6zM939.3,1282.4l16.6,16.6l-16.6,16.6l-16.6,-16.6zM1487.0,770.3l16.6,16.6l-16.6,16.6l-16.6,-16.6zM837.3,1208.4l16.6,16.6l-16.6,16.6l-16.6,-16.6zM1443.3,795.1l16.6,16.6l-16.6,16.6l-16.6,-16.6zM1134.5,1095.9l16.6,16.6l-16.6,16.6l-16.6,-16.6zM643.2,1519.0l16.6,16.6l-16.6,16.6l-16.6,-16.6zM1281.4,1036.0l16.6,16.6l-16.6,16.6l-16.6,-16.6zM940.3,1116.0l16.6,16.6l-16.6,16.6l-16.6,-16.6zM1281.1,912.4l16.6,16.6l-16.6,16.6l-16.6,-16.6zM761.4,1522.9l16.6,16.6l-16.6,16.6l-16.6,-16.6zM668.2,1347.0l16.6,16.6l-16.6,16.6l-16.6,-16.6zM1416.5,845.7l16.6,16.6l-16.6,16.6l-16.6,-16.6zM929.8,1375.3l16.6,16.6l-16.6,16.6l-16.6,-16.6zM606.9,1437.4l16.6,16.6l-16.6,16.6l-16.6,-16.6zM1531.0,795.4l16.6,16.6l-16.6,16.6l-16.6,-16.6zM788.5,1255.8l16.6,16.6l-16.6,16.6l-16.6,-16.6zM871.9,1431.9l16.6,16.6l-16.6,16.6l-16.6,-16.6zM685.5,1333.3l16.6,16.6l-16.6,16.6l-16.6,-16.6zM898.6,1430.1l16.6,16.6l-16.6,16.6l-16.6,-16.6zM591.1,1469.6l16.6,16.6l-16.6,16.6l-16.6,-16.6zM1157.7,955.6l16.6,16.6l-16.6,16.6l-16.6,-16.6zM852.6,1214.2l16.6,16.6l-16.6,16.6l-16.6,-16.6zM1095.9,1074.5l16.6,16.6l-16.6,16.6l-16.6,-16.6zM1365.9,889.6l16.6,16.6l-16.6,16.6l-16.6,-16.6zM943.3,1109.0l16.6,16.6l-16.6,16.6l-16.6,-16.6zM676.2,1347.8l16.6,16.6l-16.6,16.6l-16.6,-16.6zM811.7,1484.8l16.6,16.6l-16.6,16.6l-16.6,-16.6zM1249.3,1041.6l16.6,16.6l-16.6,16.6l-16.6,-16.6zM1348.0,961.2l16.6,16.6l-16.6,16.6l-16.6,-16.6zM1149.1,966.9l16.6,16.6l-16.6,16.6l-16.6,-16.6zM1071.4,1039.1l16.6,16.6l-16.6,16.6l-16.6,-16.6zM709.9,1324.2l16.6,16.6l-16.6,16.6l-16.6,-16.6zM716.5,1286.1l16.6,16.6l-16.6,16.6l-16.6,-16.6zM954.2,1336.6l16.6,16.6l-16.6,16.6l-16.6,-16.6zM993.7,1103.0l16.6,16.6l-16.6,16.6l-16.6,-16.6zM1640.9,685.1l16.6,16.6l-16.6,16.6l-16.6,-16.6zM1207.8,941.0l16.6,16.6l-16.6,16.6l-16.6,-16.6zM1024.7,1054.7l16.6,16.6l-16.6,16.6l-16.6,-16.6zM1081.0,1047.8l16.6,16.6l-16.6,16.6l-16.6,-16.6zM703.7,1327.1l16.6,16.6l-16.6,16.6l-16.6,-16.6zM1109.3,1069.6l16.6,16.6l-16.6,16.6l-16.6,-16.6zM848.1,1433.6l16.6,16.6l-16.6,16.6l-16.6,-16.6zM765.9,1524.6l16.6,16.6l-16.6,16.6l-16.6,-16.6zM1624.5,707.9l16.6,16.6l-16.6,16.6l-16.6,-16.6zM830.3,1215.5l16.6,16.6l-16.6,16.6l-16.6,-16.6zM1095.5,1066.7l16.6,16.6l-16.6,16.6l-16.6,-16.6zM1066.6,1187.9l16.6,16.6l-16.6,16.6l-16.6,-16.6zM1350.1,879.9l16.6,16.6l-16.6,16.6l-16.6,-16.6zM1389.3,919.9l16.6,16.6l-16.6,16.6l-16.6,-16.6zM839.3,1416.3l16.6,16.6l-16.6,16.6l-16.6,-16.6zM725.8,1306.4l16.6,16.6l-16.6,16.6l-16.6,-16.6zM681.9,1354.5l16.6,16.6l-16.6,16.6l-16.6,-16.6zM1459.7,770.8l16.6,16.6l-16.6,16.6l-16.6,-16.6zM1134.9,1101.6l16.6,16.6l-16.6,16.6l-16.6,-16.6zM737.1,1522.5l16.6,16.6l-16.6,16.6l-16.6,-16.6zM862.6,1208.3l16.6,16.6l-16.6,16.6l-16.6,-16.6zM1174.7,1121.8l16.6,16.6l-16.6,16.6l-16.6,-16.6zM946.9,1325.2l16.6,16.6l-16.6,16.6l-16.6,-16.6zM1566.1,734.8l16.6,16.6l-16.6,16.6l-16.6,-16.6zM948.2,1344.9l16.6,16.6l-16.6,16.6l-16.6,-16.6zM1424.5,844.3l16.6,16.6l-16.6,16.6l-16.6,-16.6zM1209.8,1075.4l16.6,16.6l-16.6,16.6l-16.6,-16.6zM1160.0,1094.8l16.6,16.6l-16.6,16.6l-16.6,-16.6zM866.1,1200.0l16.6,16.6l-16.6,16.6l-16.6,-16.6zM983.5,1288.4l16.6,16.6l-16.6,16.6l-16.6,-16.6zM1205.3,943.3l16.6,16.6l-16.6,16.6l-16.6,-16.6zM790.0,1523.3l16.6,16.6l-16.6,16.6l-16.6,-16.6zM1114.0,1013.6l16.6,16.6l-16.6,16.6l-16.6,-16.6zM757.1,1273.6l16.6,16.6l-16.6,16.6l-16.6,-16.6zM1359.6,946.7l16.6,16.6l-16.6,16.6l-16.6,-16.6zM1349.7,898.5l16.6,16.6l-16.6,16.6l-16.6,-16.6zM1318.3,954.9l16.6,16.6l-16.6,16.6l-16.6,-16.6zM758.5,1516.3l16.6,16.6l-16.6,16.6l-16.6,-16.6zM760.4,1260.5l16.6,16.6l-16.6,16.6l-16.6,-16.6zM1139.2,996.5l16.6,16.6l-16.6,16.6l-16.6,-16.6zM861.8,1243.0l16.6,16.6l-16.6,16.6l-16.6,-16.6zM800.9,1235.1l16.6,16.6l-16.6,16.6l-16.6,-16.6zM1381.1,889.1l16.6,16.6l-16.6,16.6l-16.6,-16.6zM1241.0,911.4l16.6,16.6l-16.6,16.6l-16.6,-16.6zM1146.4,1131.8l16.6,16.6l-16.6,16.6l-16.6,-16.6zM1568.9,728.3l16.6,16.6l-16.6,16.6l-16.6,-16.6zM783.7,1232.9l16.6,16.6l-16.6,16.6l-16.6,-16.6zM1431.8,757.6l16.6,16.6l-16.6,16.6l-16.6,-16.6zM1353.6,877.6l16.6,16.6l-16.6,16.6l-16.6,-16.6zM1169.2,1118.1l16.6,16.6l-16.6,16.6l-16.6,-16.6zM1350.2,844.5l16.6,16.6l-16.6,16.6l-16.6,-16.6zM1240.9,1083.6l16.6,16.6l-16.6,16.6l-16.6,-16.6zM1649.3,673.8l16.6,16.6l-16.6,16.6l-16.6,-16.6zM947.7,1102.5l16.6,16.6l-16.6,16.6l-16.6,-16.6zM1533.3,795.4l16.6,16.6l-16.6,16.6l-16.6,-16.6zM1053.6,1215.6l16.6,16.6l-16.6,16.6l-16.6,-16.6zM1267.7,916.3l16.6,16.6l-16.6,16.6l-16.6,-16.6zM1273.4,1024.4l16.6,16.6l-16.6,16.6l-16.6,-16.6zM874.4,1192.0l16.6,16.6l-16.6,16.6l-16.6,-16.6zM904.7,1118.1l16.6,16.6l-16.6,16.6l-16.6,-16.6zM624.3,1538.9l16.6,16.6l-16.6,16.6l-16.6,-16.6zM682.4,1346.9l16.6,16.6l-16.6,16.6l-16.6,-16.6zM1410.3,851.9l16.6,16.6l-16.6,16.6l-16.6,-16.6zM1173.3,1093.7l16.6,16.6l-16.6,16.6l-16.6,-16.6zM748.2,1264.6l16.6,16.6l-16.6,16.6l-16.6,-16.6zM1310.6,889.9l16.6,16.6l-16.6,16.6l-16.6,-16.6zM813.9,1492.4l16.6,16.6l-16.6,16.6l-16.6,-16.6zM1573.1,739.9l16.6,16.6l-16.6,16.6l-16.6,-16.6zM1666.3,676.4l16.6,16.6l-16.6,16.6l-16.6,-16.6zM1135.8,997.0l16.6,16.6l-16.6,16.6l-16.6,-16.6zM1101.0,1167.3l16.6,16.6l-16.6,16.6l-16.6,-16.6zM1057.6,1232.3l16.6,16.6l-16.6,16.6l-16.6,-16.6zM1102.1,1062.6l16.6,16.6l-16.6,16.6l-16.6,-16.6zM689.2,1516.7l16.6,16.6l-16.6,16.6l-16.6,-16.6zM930.3,1122.4l16.6,16.6l-16.6,16.6l-16.6,-16.6zM601.0,1522.4l16.6,16.6l-16.6,16.6l-16.6,-16.6zM1631.1,686.1l16.6,16.6l-16.6,16.6l-16.6,-16.6zM1317.4,897.7l16.6,16.6l-16.6,16.6l-16.6,-16.6zM1293.1,1002.9l16.6,16.6l-16.6,16.6l-16.6,-16.6zM769.9,1527.9l16.6,16.6l-16.6,16.6l-16.6,-16.6zM1239.1,906.4l16.6,16.6l-16.6,16.6l-16.6,-16.6zM1235.3,1091.9l16.6,16.6l-16.6,16.6l-16.6,-16.6zM668.2,1379.8l16.6,16.6l-16.6,16.6l-16.6,-16.6zM785.7,1512.3l16.6,16.6l-16.6,16.6l-16.6,-16.6zM822.4,1440.0l16.6,16.6l-16.6,16.6l-16.6,-16.6zM1066.7,1053.1l16.6,16.6l-16.6,16.6l-16.6,-16.6zM1520.7,803.7l16.6,16.6l-16.6,16.6l-16.6,-16.6zM808.7,1201.4l16.6,16.6l-16.6,16.6l-16.6,-16.6zM1170.0,980.4l16.6,16.6l-16.6,16.6l-16.6,-16.6zM670.9,1341.4l16.6,16.6l-16.6,16.6l-16.6,-16.6zM820.5,1209.1l16.6,16.6l-16.6,16.6l-16.6,-16.6zM966.1,1297.9l16.6,16.6l-16.6,16.6l-16.6,-16.6zM868.9,1212.9l16.6,16.6l-16.6,16.6l-16.6,-16.6zM1372.1,888.5l16.6,16.6l-16.6,16.6l-16.6,-16.6zM1261.4,1043.0l16.6,16.6l-16.6,16.6l-16.6,-16.6zM888.6,1407.8l16.6,16.6l-16.6,16.6l-16.6,-16.6zM1608.3,732.3l16.6,16.6l-16.6,16.6l-16.6,-16.6zM890.7,1403.3l16.6,16.6l-16.6,16.6l-16.6,-16.6zM1407.0,877.5l16.6,16.6l-16.6,16.6l-16.6,-16.6zM834.2,1443.3l16.6,16.6l-16.6,16.6l-16.6,-16.6zM1627.8,694.7l16.6,16.6l-16.6,16.6l-16.6,-16.6zM1027.1,1060.8l16.6,16.6l-16.6,16.6l-16.6,-16.6zM1497.1,794.7l16.6,16.6l-16.6,16.6l-16.6,-16.6zM662.7,1534.2l16.6,16.6l-16.6,16.6l-16.6,-16.6zM1197.3,963.7l16.6,16.6l-16.6,16.6l-16.6,-16.6zM733.0,1288.6l16.6,16.6l-16.6,16.6l-16.6,-16.6zM702.7,1341.8l16.6,16.6l-16.6,16.6l-16.6,-16.6zM600.0,1513.8l16.6,16.6l-16.6,16.6l-16.6,-16.6zM612.0,1431.7l16.6,16.6l-16.6,16.6l-16.6,-16.6zM1140.7,999.1l16.6,16.6l-16.6,16.6l-16.6,-16.6zM1437.3,775.5l16.6,16.6l-16.6,16.6l-16.6,-16.6zM822.2,1479.7l16.6,16.6l-16.6,16.6l-16.6,-16.6zM1056.4,1054.0l16.6,16.6l-16.6,16.6l-16.6,-16.6zM641.9,1423.1l16.6,16.6l-16.6,16.6l-16.6,-16.6zM1481.4,763.6l16.6,16.6l-16.6,16.6l-16.6,-16.6zM1095.4,1074.5l16.6,16.6l-16.6,16.6l-16.6,-16.6zM847.3,1233.4l16.6,16.6l-16.6,16.6l-16.6,-16.6zM823.5,1438.8l16.6,16.6l-16.6,16.6l-16.6,-16.6zM942.3,1346.4l16.6,16.6l-16.6,16.6l-16.6,-16.6zM1360.8,924.8l16.6,16.6l-16.6,16.6l-16.6,-16.6zM841.9,1419.5l16.6,16.6l-16.6,16.6l-16.6,-16.6zM1226.1,1081.3l16.6,16.6l-16.6,16.6l-16.6,-16.6zM941.0,1296.0l16.6,16.6l-16.6,16.6l-16.6,-16.6zM867.4,1193.3l16.6,16.6l-16.6,16.6l-16.6,-16.6zM918.8,1133.0l16.6,16.6l-16.6,16.6l-16.6,-16.6zM886.3,1160.3l16.6,16.6l-16.6,16.6l-16.6,-16.6zM949.3,1331.2l16.6,16.6l-16.6,16.6l-16.6,-16.6zM1649.1,679.6l16.6,16.6l-16.6,16.6l-16.6,-16.6zM573.1,1538.4l16.6,16.6l-16.6,16.6l-16.6,-16.6zM1449.4,836.9l16.6,16.6l-16.6,16.6l-16.6,-16.6zM1250.8,1062.6l16.6,16.6l-16.6,16.6l-16.6,-16.6zM699.9,1359.0l16.6,16.6l-16.6,16.6l-16.6,-16.6zM1196.0,981.1l16.6,16.6l-16.6,16.6l-16.6,-16.6zM669.9,1541.0l16.6,16.6l-16.6,16.6l-16.6,-16.6zM832.6,1197.2l16.6,16.6l-16.6,16.6l-16.6,-16.6zM703.1,1335.6l16.6,16.6l-16.6,16.6l-16.6,-16.6zM1153.6,944.9l16.6,16.6l-16.6,16.6l-16.6,-16.6zM1426.4,760.9l16.6,16.6l-16.6,16.6l-16.6,-16.6zM756.6,1277.8l16.6,16.6l-16.6,16.6l-16.6,-16.6zM1061.1,1184.5l16.6,16.6l-16.6,16.6l-16.6,-16.6zM1133.1,1135.2l16.6,16.6l-16.6,16.6l-16.6,-16.6zM778.7,1509.3l16.6,16.6l-16.6,16.6l-16.6,-16.6zM688.4,1353.9l16.6,16.6l-16.6,16.6l-16.6,-16.6zM1082.1,1182.0l16.6,16.6l-16.6,16.6l-16.6,-16.6zM808.7,1215.2l16.6,16.6l-16.6,16.6l-16.6,-16.6zM1456.3,816.1l16.6,16.6l-16.6,16.6l-16.6,-16.6zM1513.4,791.7l16.6,16.6l-16.6,16.6l-16.6,-16.6zM1622.5,686.5l16.6,16.6l-16.6,16.6l-16.6,-16.6zM1269.5,1023.8l16.6,16.6l-16.6,16.6l-16.6,-16.6zM1318.5,969.5l16.6,16.6l-16.6,16.6l-16.6,-16.6zM926.3,1120.4l16.6,16.6l-16.6,16.6l-16.6,-16.6zM1257.2,1052.3l16.6,16.6l-16.6,16.6l-16.6,-16.6zM1438.0,761.4l16.6,16.6l-16.6,16.6l-16.6,-16.6zM1404.1,876.7l16.6,16.6l-16.6,16.6l-16.6,-16.6zM827.2,1450.4l16.6,16.6l-16.6,16.6l-16.6,-16.6zM1616.7,707.4l16.6,16.6l-16.6,16.6l-16.6,-16.6zM1062.1,1207.0l16.6,16.6l-16.6,16.6l-16.6,-16.6zM1097.8,1193.5l16.6,16.6l-16.6,16.6l-16.6,-16.6zM1318.3,964.4l16.6,16.6l-16.6,16.6l-16.6,-16.6zM1105.4,1014.9l16.6,16.6l-16.6,16.6l-16.6,-16.6zM1021.6,1094.2l16.6,16.6l-16.6,16.6l-16.6,-16.6zM1623.7,717.4l16.6,16.6l-16.6,16.6l-16.6,-16.6zM1001.5,1102.4l16.6,16.6l-16.6,16.6l-16.6,-16.6zM1597.7,729.6l16.6,16.6l-16.6,16.6l-16.6,-16.6zM1284.9,911.2l16.6,16.6l-16.6,16.6l-16.6,-16.6zM762.9,1528.5l16.6,16.6l-16.6,16.6l-16.6,-16.6zM1252.9,1070.5l16.6,16.6l-16.6,16.6l-16.6,-16.6zM1320.1,896.1l16.6,16.6l-16.6,16.6l-16.6,-16.6zM1315.7,956.4l16.6,16.6l-16.6,16.6l-16.6,-16.6zM1371.0,915.0l16.6,16.6l-16.6,16.6l-16.6,-16.6zM1429.8,885.7l16.6,16.6l-16.6,16.6l-16.6,-16.6zM942.1,1302.1l16.6,16.6l-16.6,16.6l-16.6,-16.6zM1310.6,901.0l16.6,16.6l-16.6,16.6l-16.6,-16.6zM1341.1,877.0l16.6,16.6l-16.6,16.6l-16.6,-16.6zM1229.9,1071.5l16.6,16.6l-16.6,16.6l-16.6,-16.6zM1398.7,843.9l16.6,16.6l-16.6,16.6l-16.6,-16.6zM995.0,1100.4l16.6,16.6l-16.6,16.6l-16.6,-16.6zM1168.6,966.9l16.6,16.6l-16.6,16.6l-16.6,-16.6zM794.8,1230.5l16.6,16.6l-16.6,16.6l-16.6,-16.6zM1421.1,896.9l16.6,16.6l-16.6,16.6l-16.6,-16.6zM1435.8,785.7l16.6,16.6l-16.6,16.6l-16.6,-16.6zM1479.3,769.8l16.6,16.6l-16.6,16.6l-16.6,-16.6zM848.7,1215.8l16.6,16.6l-16.6,16.6l-16.6,-16.6zM1552.3,773.5l16.6,16.6l-16.6,16.6l-16.6,-16.6zM1198.3,1077.0l16.6,16.6l-16.6,16.6l-16.6,-16.6zM1291.0,908.2l16.6,16.6l-16.6,16.6l-16.6,-16.6zM1342.7,958.9l16.6,16.6l-16.6,16.6l-16.6,-16.6zM925.3,1342.9l16.6,16.6l-16.6,16.6l-16.6,-16.6zM1056.7,1052.3l16.6,16.6l-16.6,16.6l-16.6,-16.6zM634.0,1436.2l16.6,16.6l-16.6,16.6l-16.6,-16.6zM887.4,1434.5l16.6,16.6l-16.6,16.6l-16.6,-16.6zM711.1,1306.8l16.6,16.6l-16.6,16.6l-16.6,-16.6zM967.3,1337.5l16.6,16.6l-16.6,16.6l-16.6,-16.6zM639.9,1418.2l16.6,16.6l-16.6,16.6l-16.6,-16.6zM1324.6,852.8l16.6,16.6l-16.6,16.6l-16.6,-16.6zM1194.1,964.7l16.6,16.6l-16.6,16.6l-16.6,-16.6zM1218.8,1086.6l16.6,16.6l-16.6,16.6l-16.6,-16.6zM910.6,1368.7l16.6,16.6l-16.6,16.6l-16.6,-16.6zM945.3,1338.9l16.6,16.6l-16.6,16.6l-16.6,-16.6zM740.2,1294.5l16.6,16.6l-16.6,16.6l-16.6,-16.6zM1313.0,990.7l16.6,16.6l-16.6,16.6l-16.6,-16.6zM1108.2,1011.5l16.6,16.6l-16.6,16.6l-16.6,-16.6zM1398.5,879.7l16.6,16.6l-16.6,16.6l-16.6,-16.6zM781.3,1249.4l16.6,16.6l-16.6,16.6l-16.6,-16.6zM1126.1,997.4l16.6,16.6l-16.6,16.6l-16.6,-16.6zM1317.3,985.2l16.6,16.6l-16.6,16.6l-16.6,-16.6zM1167.7,1114.8l16.6,16.6l-16.6,16.6l-16.6,-16.6zM865.9,1241.8l16.6,16.6l-16.6,16.6l-16.6,-16.6zM743.1,1282.7l16.6,16.6l-16.6,16.6l-16.6,-16.6zM1310.9,906.8l16.6,16.6l-16.6,16.6l-16.6,-16.6zM1026.3,1252.7l16.6,16.6l-16.6,16.6l-16.6,-16.6zM939.7,1286.2l16.6,16.6l-16.6,16.6l-16.6,-16.6zM1484.5,751.5l16.6,16.6l-16.6,16.6l-16.6,-16.6zM1367.4,907.0l16.6,16.6l-16.6,16.6l-16.6,-16.6zM1373.5,903.6l16.6,16.6l-16.6,16.6l-16.6,-16.6zM1474.2,823.2l16.6,16.6l-16.6,16.6l-16.6,-16.6zM781.9,1250.8l16.6,16.6l-16.6,16.6l-16.6,-16.6zM1708.3,649.0l16.6,16.6l-16.6,16.6l-16.6,-16.6zM1235.6,1054.8l16.6,16.6l-16.6,16.6l-16.6,-16.6zM1192.8,971.1l16.6,16.6l-16.6,16.6l-16.6,-16.6zM609.5,1524.0l16.6,16.6l-16.6,16.6l-16.6,-16.6zM1081.3,1058.5l16.6,16.6l-16.6,16.6l-16.6,-16.6zM932.1,1358.9l16.6,16.6l-16.6,16.6l-16.6,-16.6zM906.9,1394.4l16.6,16.6l-16.6,16.6l-16.6,-16.6zM1297.4,907.1l16.6,16.6l-16.6,16.6l-16.6,-16.6zM1399.2,899.1l16.6,16.6l-16.6,16.6l-16.6,-16.6zM1493.5,774.0l16.6,16.6l-16.6,16.6l-16.6,-16.6zM1107.9,1055.8l16.6,16.6l-16.6,16.6l-16.6,-16.6zM651.8,1401.2l16.6,16.6l-16.6,16.6l-16.6,-16.6zM929.3,1372.0l16.6,16.6l-16.6,16.6l-16.6,-16.6zM900.6,1138.9l16.6,16.6l-16.6,16.6l-16.6,-16.6zM1106.3,1035.4l16.6,16.6l-16.6,16.6l-16.6,-16.6zM1131.7,976.0l16.6,16.6l-16.6,16.6l-16.6,-16.6zM819.0,1196.9l16.6,16.6l-16.6,16.6l-16.6,-16.6zM1056.5,1029.8l16.6,16.6l-16.6,16.6l-16.6,-16.6zM1354.2,879.1l16.6,16.6l-16.6,16.6l-16.6,-16.6zM1437.4,888.9l16.6,16.6l-16.6,16.6l-16.6,-16.6zM895.3,1424.3l16.6,16.6l-16.6,16.6l-16.6,-16.6zM1718.5,646.1l16.6,16.6l-16.6,16.6l-16.6,-16.6zM1038.5,1022.6l16.6,16.6l-16.6,16.6l-16.6,-16.6zM1340.2,839.5l16.6,16.6l-16.6,16.6l-16.6,-16.6zM1309.6,1056.6l16.6,16.6l-16.6,16.6l-16.6,-16.6zM1196.0,1155.2l16.6,16.6l-16.6,16.6l-16.6,-16.6zM1634.3,670.3l16.6,16.6l-16.6,16.6l-16.6,-16.6zM785.1,1548.5l16.6,16.6l-16.6,16.6l-16.6,-16.6zM984.6,1081.5l16.6,16.6l-16.6,16.6l-16.6,-16.6zM671.5,1553.3l16.6,16.6l-16.6,16.6l-16.6,-16.6zM1595.7,742.9l16.6,16.6l-16.6,16.6l-16.6,-16.6zM1679.2,666.3l16.6,16.6l-16.6,16.6l-16.6,-16.6zM1317.1,1047.6l16.6,16.6l-16.6,16.6l-16.6,-16.6zM842.0,1181.6l16.6,16.6l-16.6,16.6l-16.6,-16.6zM1295.2,1035.2l16.6,16.6l-16.6,16.6l-16.6,-16.6zM654.3,1323.0l16.6,16.6l-16.6,16.6l-16.6,-16.6zM797.2,1535.3l16.6,16.6l-16.6,16.6l-16.6,-16.6zM1527.1,755.9l16.6,16.6l-16.6,16.6l-16.6,-16.6zM1396.7,827.2l16.6,16.6l-16.6,16.6l-16.6,-16.6zM1473.5,791.8l16.6,16.6l-16.6,16.6l-16.6,-16.6zM1215.9,898.3l16.6,16.6l-16.6,16.6l-16.6,-16.6zM1482.2,789.5l16.6,16.6l-16.6,16.6l-16.6,-16.6zM1084.7,1009.3l16.6,16.6l-16.6,16.6l-16.6,-16.6zM1084.0,1031.0l16.6,16.6l-16.6,16.6l-16.6,-16.6zM1405.0,819.2l16.6,16.6l-16.6,16.6l-16.6,-16.6zM1457.4,849.3l16.6,16.6l-16.6,16.6l-16.6,-16.6zM1083.1,1006.4l16.6,16.6l-16.6,16.6l-16.6,-16.6zM1349.7,979.2l16.6,16.6l-16.6,16.6l-16.6,-16.6zM1083.7,1033.6l16.6,16.6l-16.6,16.6l-16.6,-16.6zM869.9,1466.8l16.6,16.6l-16.6,16.6l-16.6,-16.6zM1424.2,909.1l16.6,16.6l-16.6,16.6l-16.6,-16.6zM1369.4,974.9l16.6,16.6l-16.6,16.6l-16.6,-16.6zM1613.9,722.5l16.6,16.6l-16.6,16.6l-16.6,-16.6zM1084.4,1017.8l16.6,16.6l-16.6,16.6l-16.6,-16.6zM880.9,1140.1l16.6,16.6l-16.6,16.6l-16.6,-16.6zM1454.7,862.0l16.6,16.6l-16.6,16.6l-16.6,-16.6zM606.4,1553.3l16.6,16.6l-16.6,16.6l-16.6,-16.6zM1583.5,735.0l16.6,16.6l-16.6,16.6l-16.6,-16.6zM1319.0,858.7l16.6,16.6l-16.6,16.6l-16.6,-16.6zM1712.7,651.4l16.6,16.6l-16.6,16.6l-16.6,-16.6zM1422.1,755.4l16.6,16.6l-16.6,16.6l-16.6,-16.6zM1440.2,828.8l16.6,16.6l-16.6,16.6l-16.6,-16.6zM1015.7,1321.7l16.6,16.6l-16.6,16.6l-16.6,-16.6zM576.0,1492.5l16.6,16.6l-16.6,16.6l-16.6,-16.6zM535.8,1538.0l16.6,16.6l-16.6,16.6l-16.6,-16.6zM1087.9,1015.4l16.6,16.6l-16.6,16.6l-16.6,-16.6zM637.2,1372.4l16.6,16.6l-16.6,16.6l-16.6,-16.6zM684.6,1317.8l16.6,16.6l-16.6,16.6l-16.6,-16.6zM553.2,1528.9l16.6,16.6l-16.6,16.6l-16.6,-16.6zM1067.6,1236.2l16.6,16.6l-16.6,16.6l-16.6,-16.6zM873.9,1144.3l16.6,16.6l-16.6,16.6l-16.6,-16.6zM1513.7,799.4l16.6,16.6l-16.6,16.6l-16.6,-16.6zM1020.8,1294.5l16.6,16.6l-16.6,16.6l-16.6,-16.6zM839.7,1487.4l16.6,16.6l-16.6,16.6l-16.6,-16.6zM1756.7,600.9l16.6,16.6l-16.6,16.6l-16.6,-16.6zM735.7,1554.9l16.6,16.6l-16.6,16.6l-16.6,-16.6zM980.9,1348.9l16.6,16.6l-16.6,16.6l-16.6,-16.6zM1131.1,1174.8l16.6,16.6l-16.6,16.6l-16.6,-16.6zM1497.7,798.5l16.6,16.6l-16.6,16.6l-16.6,-16.6zM554.1,1519.1l16.6,16.6l-16.6,16.6l-16.6,-16.6zM771.9,1541.3l16.6,16.6l-16.6,16.6l-16.6,-16.6zM1275.7,889.7l16.6,16.6l-16.6,16.6l-16.6,-16.6zM1328.5,994.7l16.6,16.6l-16.6,16.6l-16.6,-16.6zM1014.1,1307.3l16.6,16.6l-16.6,16.6l-16.6,-16.6zM1449.5,757.3l16.6,16.6l-16.6,16.6l-16.6,-16.6zM677.9,1334.3l16.6,16.6l-16.6,16.6l-16.6,-16.6zM735.5,1552.2l16.6,16.6l-16.6,16.6l-16.6,-16.6zM1372.2,952.5l16.6,16.6l-16.6,16.6l-16.6,-16.6zM1475.1,820.8l16.6,16.6l-16.6,16.6l-16.6,-16.6zM1074.0,1016.0l16.6,16.6l-16.6,16.6l-16.6,-16.6zM1457.2,870.7l16.6,16.6l-16.6,16.6l-16.6,-16.6zM1317.3,821.5l16.6,16.6l-16.6,16.6l-16.6,-16.6zM1476.3,852.0l16.6,16.6l-16.6,16.6l-16.6,-16.6zM1155.2,931.8l16.6,16.6l-16.6,16.6l-16.6,-16.6zM1616.0,723.7l16.6,16.6l-16.6,16.6l-16.6,-16.6zM1591.0,747.8l16.6,16.6l-16.6,16.6l-16.6,-16.6zM1313.4,827.2l16.6,16.6l-16.6,16.6l-16.6,-16.6zM554.9,1521.6l16.6,16.6l-16.6,16.6l-16.6,-16.6zM994.7,1353.1l16.6,16.6l-16.6,16.6l-16.6,-16.6zM1321.3,800.8l16.6,16.6l-16.6,16.6l-16.6,-16.6zM1185.7,1109.1l16.6,16.6l-16.6,16.6l-16.6,-16.6zM1304.4,1019.9l16.6,16.6l-16.6,16.6l-16.6,-16.6zM1065.2,1242.3l16.6,16.6l-16.6,16.6l-16.6,-16.6zM987.1,1347.9l16.6,16.6l-16.6,16.6l-16.6,-16.6zM573.5,1554.0l16.6,16.6l-16.6,16.6l-16.6,-16.6zM1349.5,843.5l16.6,16.6l-16.6,16.6l-16.6,-16.6zM1184.6,1140.6l16.6,16.6l-16.6,16.6l-16.6,-16.6zM1452.6,842.7l16.6,16.6l-16.6,16.6l-16.6,-16.6zM612.2,1420.9l16.6,16.6l-16.6,16.6l-16.6,-16.6zM843.9,1164.3l16.6,16.6l-16.6,16.6l-16.6,-16.6zM1192.6,1153.6l16.6,16.6l-16.6,16.6l-16.6,-16.6zM1281.7,889.8l16.6,16.6l-16.6,16.6l-16.6,-16.6zM1314.2,859.5l16.6,16.6l-16.6,16.6l-16.6,-16.6zM609.8,1413.7l16.6,16.6l-16.6,16.6l-16.6,-16.6zM1016.8,1290.5l16.6,16.6l-16.6,16.6l-16.6,-16.6zM1392.1,925.8l16.6,16.6l-16.6,16.6l-16.6,-16.6zM914.6,1456.3l16.6,16.6l-16.6,16.6l-16.6,-16.6zM1045.2,1029.7l16.6,16.6l-16.6,16.6l-16.6,-16.6zM1188.5,928.1l16.6,16.6l-16.6,16.6l-16.6,-16.6zM1101.9,972.2l16.6,16.6l-16.6,16.6l-16.6,-16.6zM711.9,1244.8l16.6,16.6l-16.6,16.6l-16.6,-16.6zM1046.5,1007.9l16.6,16.6l-16.6,16.6l-16.6,-16.6zM1450.3,752.8l16.6,16.6l-16.6,16.6l-16.6,-16.6zM685.5,1555.8l16.6,16.6l-16.6,16.6l-16.6,-16.6zM1595.8,746.2l16.6,16.6l-16.6,16.6l-16.6,-16.6zM942.5,1067.9l16.6,16.6l-16.6,16.6l-16.6,-16.6zM1070.8,1235.3l16.6,16.6l-16.6,16.6l-16.6,-16.6zM1009.2,1322.9l16.6,16.6l-16.6,16.6l-16.6,-16.6zM943.4,1365.6l16.6,16.6l-16.6,16.6l-16.6,-16.6zM1364.3,965.9l16.6,16.6l-16.6,16.6l-16.6,-16.6zM617.6,1556.1l16.6,16.6l-16.6,16.6l-16.6,-16.6zM573.9,1484.2l16.6,16.6l-16.6,16.6l-16.6,-16.6zM714.8,1561.7l16.6,16.6l-16.6,16.6l-16.6,-16.6zM739.8,1249.3l16.6,16.6l-16.6,16.6l-16.6,-16.6zM835.9,1486.5l16.6,16.6l-16.6,16.6l-16.6,-16.6zM1043.7,1267.5l16.6,16.6l-16.6,16.6l-16.6,-16.6zM1176.1,945.9l16.6,16.6l-16.6,16.6l-16.6,-16.6zM1432.6,759.9l16.6,16.6l-16.6,16.6l-16.6,-16.6zM1272.6,1078.7l16.6,16.6l-16.6,16.6l-16.6,-16.6zM771.8,1539.4l16.6,16.6l-16.6,16.6l-16.6,-16.6zM1326.0,982.9l16.6,16.6l-16.6,16.6l-16.6,-16.6zM1029.3,1287.4l16.6,16.6l-16.6,16.6l-16.6,-16.6zM1007.2,1322.4l16.6,16.6l-16.6,16.6l-16.6,-16.6zM982.6,1348.2l16.6,16.6l-16.6,16.6l-16.6,-16.6zM1265.9,1092.7l16.6,16.6l-16.6,16.6l-16.6,-16.6zM904.0,1105.0l16.6,16.6l-16.6,16.6l-16.6,-16.6zM1268.6,1097.1l16.6,16.6l-16.6,16.6l-16.6,-16.6zM1422.4,761.8l16.6,16.6l-16.6,16.6l-16.6,-16.6zM812.5,1537.3l16.6,16.6l-16.6,16.6l-16.6,-16.6zM983.0,1340.6l16.6,16.6l-16.6,16.6l-16.6,-16.6zM981.9,1337.8l16.6,16.6l-16.6,16.6l-16.6,-16.6zM1598.7,708.5l16.6,16.6l-16.6,16.6l-16.6,-16.6zM1354.0,839.6l16.6,16.6l-16.6,16.6l-16.6,-16.6zM944.0,1362.1l16.6,16.6l-16.6,16.6l-16.6,-16.6zM1326.2,801.9l16.6,16.6l-16.6,16.6l-16.6,-16.6zM1479.7,750.8l16.6,16.6l-16.6,16.6l-16.6,-16.6zM638.5,1550.1l16.6,16.6l-16.6,16.6l-16.6,-16.6zM992.1,1323.7l16.6,16.6l-16.6,16.6l-16.6,-16.6zM726.6,1260.3l16.6,16.6l-16.6,16.6l-16.6,-16.6zM1176.9,1132.8l16.6,16.6l-16.6,16.6l-16.6,-16.6zM832.9,1497.4l16.6,16.6l-16.6,16.6l-16.6,-16.6zM536.6,1475.8l16.6,16.6l-16.6,16.6l-16.6,-16.6zM957.2,1424.7l16.6,16.6l-16.6,16.6l-16.6,-16.6zM523.8,1549.4l16.6,16.6l-16.6,16.6l-16.6,-16.6zM571.3,1429.2l16.6,16.6l-16.6,16.6l-16.6,-16.6zM574.3,1418.8l16.6,16.6l-16.6,16.6l-16.6,-16.6zM651.5,1319.4l16.6,16.6l-16.6,16.6l-16.6,-16.6zM712.3,1240.7l16.6,16.6l-16.6,16.6l-16.6,-16.6zM816.2,1157.6l16.6,16.6l-16.6,16.6l-16.6,-16.6zM851.8,1126.4l16.6,16.6l-16.6,16.6l-16.6,-16.6zM1116.8,886.7l16.6,16.6l-16.6,16.6l-16.6,-16.6zM1196.9,839.8l16.6,16.6l-16.6,16.6l-16.6,-16.6zM1241.4,798.6l16.6,16.6l-16.6,16.6l-16.6,-16.6zM1276.4,850.2l16.6,16.6l-16.6,16.6l-16.6,-16.6zM1400.2,714.6l16.6,16.6l-16.6,16.6l-16.6,-16.6zM1385.4,683.4l16.6,16.6l-16.6,16.6l-16.6,-16.6zM1332.8,1090.0l16.6,16.6l-16.6,16.6l-16.6,-16.6zM1258.6,1173.2l16.6,16.6l-16.6,16.6l-16.6,-16.6zM1942.5,462.8l16.6,16.6l-16.6,16.6l-16.6,-16.6zM1933.6,453.9l16.6,16.6l-16.6,16.6l-16.6,-16.6zM1895.0,485.0l16.6,16.6l-16.6,16.6l-16.6,-16.6zM1887.6,510.3l16.6,16.6l-16.6,16.6l-16.6,-16.6zM1866.8,517.7l16.6,16.6l-16.6,16.6l-16.6,-16.6zM1852.0,511.7l16.6,16.6l-16.6,16.6l-16.6,-16.6zM1837.1,520.6l16.6,16.6l-16.6,16.6l-16.6,-16.6zM1857.9,531.0l16.6,16.6l-16.6,16.6l-16.6,-16.6zM1742.7,494.8l16.6,16.6l-16.6,16.6l-16.6,-16.6zM1757.6,548.0l16.6,16.6l-16.6,16.6l-16.6,-16.6zM1825.2,551.8l16.6,16.6l-16.6,16.6l-16.6,-16.6zM1816.3,548.8l16.6,16.6l-16.6,16.6l-16.6,-16.6zM1801.5,562.2l16.6,16.6l-16.6,16.6l-16.6,-16.6zM1609.4,557.7l16.6,16.6l-16.6,16.6l-16.6,-16.6zM1654.0,589.5l16.6,16.6l-16.6,16.6l-16.6,-16.6zM1765.9,584.5l16.6,16.6l-16.6,16.6l-16.6,-16.6zM1740.6,594.9l16.6,16.6l-16.6,16.6l-16.6,-16.6zM1780.7,605.2l16.6,16.6l-16.6,16.6l-16.6,-16.6zM1762.9,605.2l16.6,16.6l-16.6,16.6l-16.6,-16.6zM1657.5,626.0l16.6,16.6l-16.6,16.6l-16.6,-16.6zM1673.9,630.5l16.6,16.6l-16.6,16.6l-16.6,-16.6zM1730.3,632.0l16.6,16.6l-16.6,16.6l-16.6,-16.6zM1721.3,652.7l16.6,16.6l-16.6,16.6l-16.6,-16.6zM1712.4,667.6l16.6,16.6l-16.6,16.6l-16.6,-16.6zM1623.4,661.6l16.6,16.6l-16.6,16.6l-16.6,-16.6zM1638.2,661.6l16.6,16.6l-16.6,16.6l-16.6,-16.6zM1699.1,698.7l16.6,16.6l-16.6,16.6l-16.6,-16.6zM1682.8,685.4l16.6,16.6l-16.6,16.6l-16.6,-16.6zM1595.2,692.8l16.6,16.6l-16.6,16.6l-16.6,-16.6zM1567.0,715.1l16.6,16.6l-16.6,16.6l-16.6,-16.6zM1647.1,700.2l16.6,16.6l-16.6,16.6l-16.6,-16.6zM1601.1,756.6l16.6,16.6l-16.6,16.6l-16.6,-16.6zM1587.8,744.7l16.6,16.6l-16.6,16.6l-16.6,-16.6zM1526.9,746.2l16.6,16.6l-16.6,16.6l-16.6,-16.6zM1485.4,741.8l16.6,16.6l-16.6,16.6l-16.6,-16.6zM1489.8,756.6l16.6,16.6l-16.6,16.6l-16.6,-16.6zM1454.2,746.2l16.6,16.6l-16.6,16.6l-16.6,-16.6zM1430.5,729.9l16.6,16.6l-16.6,16.6l-16.6,-16.6zM1421.6,756.6l16.6,16.6l-16.6,16.6l-16.6,-16.6zM1417.1,767.0l16.6,16.6l-16.6,16.6l-16.6,-16.6zM1567.0,777.4l16.6,16.6l-16.6,16.6l-16.6,-16.6zM1532.9,823.4l16.6,16.6l-16.6,16.6l-16.6,-16.6zM1501.7,839.7l16.6,16.6l-16.6,16.6l-16.6,-16.6zM1489.8,866.4l16.6,16.6l-16.6,16.6l-16.6,-16.6zM1075.9,1273.4l16.6,16.6l-16.6,16.6l-16.6,-16.6zM1041.8,1395.1l16.6,16.6l-16.6,16.6l-16.6,-16.6zM1022.5,1404.0l16.6,16.6l-16.6,16.6l-16.6,-16.6zM1009.1,1389.1l16.6,16.6l-16.6,16.6l-16.6,-16.6zM1225.9,1215.8l16.6,16.6l-16.6,16.6l-16.6,-16.6zM1206.2,1232.0l16.6,16.6l-16.6,16.6l-16.6,-16.6zM1187.7,1241.2l16.6,16.6l-16.6,16.6l-16.6,-16.6zM1123.0,1273.6l16.6,16.6l-16.6,16.6l-16.6,-16.6zM1138.0,1272.4l16.6,16.6l-16.6,16.6l-16.6,-16.6zM1123.0,1294.4l16.6,16.6l-16.6,16.6l-16.6,-16.6zM1067.5,1309.4l16.6,16.6l-16.6,16.6l-16.6,-16.6zM1069.8,1325.6l16.6,16.6l-16.6,16.6l-16.6,-16.6zM1082.5,1361.4l16.6,16.6l-16.6,16.6l-16.6,-16.6zM1064.0,1369.5l16.6,16.6l-16.6,16.6l-16.6,-16.6zM1038.6,1367.2l16.6,16.6l-16.6,16.6l-16.6,-16.6zM2164.3,312.7l16.6,16.6l-16.6,16.6l-16.6,-16.6zM2075.8,380.4l16.6,16.6l-16.6,16.6l-16.6,-16.6zM2078.7,422.1l16.6,16.6l-16.6,16.6l-16.6,-16.6zM2031.9,380.4l16.6,16.6l-16.6,16.6l-16.6,-16.6zM1324.2,1049.3l16.6,16.6l-16.6,16.6l-16.6,-16.6zM1305.7,1059.7l16.6,16.6l-16.6,16.6l-16.6,-16.6zM1280.2,1085.1l16.6,16.6l-16.6,16.6l-16.6,-16.6zM1282.5,1099.0l16.6,16.6l-16.6,16.6l-16.6,-16.6zM1288.3,1111.7l16.6,16.6l-16.6,16.6l-16.6,-16.6zM1273.3,1116.3l16.6,16.6l-16.6,16.6l-16.6,-16.6zM1229.4,1111.7l16.6,16.6l-16.6,16.6l-16.6,-16.6zM1206.2,1160.3l16.6,16.6l-16.6,16.6l-16.6,-16.6zM1206.2,1175.3l16.6,16.6l-16.6,16.6l-16.6,-16.6zM1187.7,1189.2l16.6,16.6l-16.6,16.6l-16.6,-16.6zM1200.5,1195.0l16.6,16.6l-16.6,16.6l-16.6,-16.6zM1124.2,1214.6l16.6,16.6l-16.6,16.6l-16.6,-16.6zM1111.4,1247.0l16.6,16.6l-16.6,16.6l-16.6,-16.6zM1046.7,1293.2l16.6,16.6l-16.6,16.6l-16.6,-16.6zM1031.7,1334.8l16.6,16.6l-16.6,16.6l-16.6,-16.6zM1373.9,996.1l16.6,16.6l-16.6,16.6l-16.6,-16.6zM1339.2,1001.9l16.6,16.6l-16.6,16.6l-16.6,-16.6zM1326.0,793.2l16.6,16.6l-16.6,16.6l-16.6,-16.6zM1342.3,793.2l16.6,16.6l-16.6,16.6l-16.6,-16.6zM1318.6,808.1l16.6,16.6l-16.6,16.6l-16.6,-16.6zM1308.2,822.9l16.6,16.6l-16.6,16.6l-16.6,-16.6zM1373.5,824.4l16.6,16.6l-16.6,16.6l-16.6,-16.6zM1409.1,808.1l16.6,16.6l-16.6,16.6l-16.6,-16.6zM1238.5,876.3l16.6,16.6l-16.6,16.6l-16.6,-16.6zM1213.2,891.2l16.6,16.6l-16.6,16.6l-16.6,-16.6zM1191.0,903.0l16.6,16.6l-16.6,16.6l-16.6,-16.6zM1146.4,913.4l16.6,16.6l-16.6,16.6l-16.6,-16.6zM1170.2,932.7l16.6,16.6l-16.6,16.6l-16.6,-16.6zM1078.2,939.3l16.6,16.6l-16.6,16.6l-16.6,-16.6zM1085.6,960.9l16.6,16.6l-16.6,16.6l-16.6,-16.6zM1094.5,971.3l16.6,16.6l-16.6,16.6l-16.6,-16.6zM1051.5,990.6l16.6,16.6l-16.6,16.6l-16.6,-16.6zM1026.2,1018.8l16.6,16.6l-16.6,16.6l-16.6,-16.6zM1008.4,1036.6l16.6,16.6l-16.6,16.6l-16.6,-16.6zM940.1,1054.4l16.6,16.6l-16.6,16.6l-16.6,-16.6zM923.8,1072.2l16.6,16.6l-16.6,16.6l-16.6,-16.6zM898.6,1085.6l16.6,16.6l-16.6,16.6l-16.6,-16.6zM886.7,1115.3l16.6,16.6l-16.6,16.6l-16.6,-16.6zM1486.3,903.0l16.6,16.6l-16.6,16.6l-16.6,-16.6zM1459.6,907.5l16.6,16.6l-16.6,16.6l-16.6,-16.6zM1424.0,909.0l16.6,16.6l-16.6,16.6l-16.6,-16.6zM1403.2,920.9l16.6,16.6l-16.6,16.6l-16.6,-16.6zM1379.4,986.2l16.6,16.6l-16.6,16.6l-16.6,-16.6zM1346.8,1001.0l16.6,16.6l-16.6,16.6l-16.6,-16.6zM1323.0,1018.8l16.6,16.6l-16.6,16.6l-16.6,-16.6zM1294.8,1110.8l16.6,16.6l-16.6,16.6l-16.6,-16.6zM1207.3,1146.4l16.6,16.6l-16.6,16.6l-16.6,-16.6zM554.4,1512.3l16.6,16.6l-16.6,16.6l-16.6,-16.6zM783.5,1199.2l16.6,16.6l-16.6,16.6l-16.6,-16.6zM798.4,1188.8l16.6,16.6l-16.6,16.6l-16.6,-16.6zM819.2,1545.0l16.6,16.6l-16.6,16.6l-16.6,-16.6zM875.6,1478.2l16.6,16.6l-16.6,16.6l-16.6,-16.6zM917.1,1457.4l16.6,16.6l-16.6,16.6l-16.6,-16.6zM926.0,1418.8l16.6,16.6l-16.6,16.6l-16.6,-16.6zM946.8,1389.1l16.6,16.6l-16.6,16.6l-16.6,-16.6zM544.3,1552.0l16.6,16.6l-16.6,16.6l-16.6,-16.6zM557.9,1557.8l16.6,16.6l-16.6,16.6l-16.6,-16.6zM583.3,1559.8l16.6,16.6l-16.6,16.6l-16.6,-16.6zM571.6,1548.1l16.6,16.6l-16.6,16.6l-16.6,-16.6zM612.5,1559.8l16.6,16.6l-16.6,16.6l-16.6,-16.6zM632.0,1555.9l16.6,16.6l-16.6,16.6l-16.6,-16.6zM647.5,1553.9l16.6,16.6l-16.6,16.6l-16.6,-16.6zM674.8,1564.6l16.6,16.6l-16.6,16.6l-16.6,-16.6zM686.5,1559.8l16.6,16.6l-16.6,16.6l-16.6,-16.6zM713.8,1559.8l16.6,16.6l-16.6,16.6l-16.6,-16.6zM733.3,1552.0l16.6,16.6l-16.6,16.6l-16.6,-16.6zM748.8,1550.0l16.6,16.6l-16.6,16.6l-16.6,-16.6zM764.4,1548.1l16.6,16.6l-16.6,16.6l-16.6,-16.6zM789.8,1553.9l16.6,16.6l-16.6,16.6l-16.6,-16.6zM548.2,1524.7l16.6,16.6l-16.6,16.6l-16.6,-16.6zM598.8,1557.8l16.6,16.6l-16.6,16.6l-16.6,-16.6zM661.2,1557.8l16.6,16.6l-16.6,16.6l-16.6,-16.6zM700.1,1557.8l16.6,16.6l-16.6,16.6l-16.6,-16.6z"/>
<path d="M524.7,1575.2L2163.7,282.3" stroke="#231f20" stroke-width="6.0" fill="none"/>
<path d="M1960,443.0L2163.7,282.3" stroke="#231f20" stroke-width="6.9" fill="none"/>
<rect x="583" y="177.1" width="469.2" height="150.8" fill="none" stroke="#231f20" stroke-width="6"/>
<g class="y-title"><text transform="translate(1.37,80.70) scale(0.6698,1)" font-size="107.5" stroke="#231f20" stroke-width="1.4">R</text><text transform="translate(54.35,80.70) scale(0.6947,1)" font-size="107.5" stroke="#231f20" stroke-width="1.4">P</text><text transform="translate(103.03,80.70) scale(0.8410,1)" font-size="107.5" stroke="#231f20" stroke-width="0.5">K</text><text transform="translate(154.74,80.70) scale(1.1625,1)" font-size="107.5">M</text><text transform="translate(288.75,80.70) scale(0.5357,1)" font-size="107.5" stroke="#231f20" stroke-width="3.2">(</text><text transform="translate(312.80,80.70) scale(0.8000,1)" font-size="107.5">1</text><text transform="translate(402.06,80.70) scale(1.0457,1)" font-size="89">sample</text><text transform="translate(701.30,82.50) scale(1.0500,1)" font-size="100">,</text><text transform="translate(762.88,80.70) scale(0.9836,1)" font-size="107.5">25</text><text transform="translate(913.60,80.70) scale(1.0240,1)" font-size="89">cells</text><text transform="translate(1099.49,80.70) scale(0.5071,1)" font-size="107.5" stroke="#231f20" stroke-width="3.2">)</text></g>
<g class="r2"><text transform="translate(624.12,289.20) scale(0.6721,1)" font-size="103">R</text><text transform="translate(673.58,257.30) scale(0.9741,1)" font-size="60">2</text><text transform="translate(738.02,287.70) scale(0.9160,0.673)" font-size="103" stroke="#231f20" stroke-width="1.8">=</text><text transform="translate(822.26,289.20) scale(1.0592,1)" font-size="103">0</text><text transform="translate(881.48,289.20) scale(1.0800,1)" font-size="103">.</text><text transform="translate(909.34,289.20) scale(1.0511,1)" font-size="103">9</text><text transform="translate(976.00,289.20) scale(0.7000,1)" font-size="103">1</text></g>
<g class="ytick"><text transform="translate(16.60,216.40) scale(0.7000,1)" font-size="106.8">1</text><text transform="translate(60.20,216.40) scale(1.0256,1)" font-size="106.8">00000</text></g>
<g class="ytick"><text transform="translate(77.30,495.20) scale(0.7000,1)" font-size="106.8">1</text><text transform="translate(120.88,495.20) scale(1.0293,1)" font-size="106.8">0000</text></g>
<g class="ytick"><text transform="translate(138.00,774.00) scale(0.7000,1)" font-size="106.8">1</text><text transform="translate(181.58,774.00) scale(1.0294,1)" font-size="106.8">000</text></g>
<g class="ytick"><text transform="translate(198.70,1063.70) scale(0.7000,1)" font-size="106.8">1</text><text transform="translate(242.28,1063.70) scale(1.0297,1)" font-size="106.8">00</text></g>
<g class="ytick"><text transform="translate(259.40,1340.60) scale(0.7000,1)" font-size="106.8">1</text><text transform="translate(302.90,1340.60) scale(1.0510,1)" font-size="106.8">0</text></g>
<g class="ytick"><text transform="translate(307.20,1620.00) scale(0.8000,1)" font-size="106.8">1</text></g>
<g class="xtick"><text transform="translate(441.20,1763.30) scale(0.8000,1)" font-size="106.8">1</text></g>
<g class="xtick"><text transform="translate(787.10,1763.30) scale(0.7000,1)" font-size="106.8">1</text><text transform="translate(830.60,1763.30) scale(1.0510,1)" font-size="106.8">0</text></g>
<g class="xtick"><text transform="translate(1153.00,1763.30) scale(0.7000,1)" font-size="106.8">1</text><text transform="translate(1196.58,1763.30) scale(1.0297,1)" font-size="106.8">00</text></g>
<g class="xtick"><text transform="translate(1501.10,1763.30) scale(0.7000,1)" font-size="106.8">1</text><text transform="translate(1544.68,1763.30) scale(1.0294,1)" font-size="106.8">000</text></g>
<g class="xtick"><text transform="translate(1852.60,1763.30) scale(0.7000,1)" font-size="106.8">1</text><text transform="translate(1896.18,1763.30) scale(1.0293,1)" font-size="106.8">0000</text></g>
<g class="xtick"><text transform="translate(2212.90,1763.30) scale(0.7000,1)" font-size="106.8">1</text><text transform="translate(2256.50,1763.30) scale(1.0256,1)" font-size="106.8">00000</text></g>
<g class="x-title"><text transform="translate(1079.57,2003.20) scale(0.6698,1)" font-size="107.5" stroke="#231f20" stroke-width="1.4">R</text><text transform="translate(1132.55,2003.20) scale(0.6947,1)" font-size="107.5" stroke="#231f20" stroke-width="1.4">P</text><text transform="translate(1181.23,2003.20) scale(0.8410,1)" font-size="107.5" stroke="#231f20" stroke-width="0.5">K</text><text transform="translate(1232.94,2003.20) scale(1.1625,1)" font-size="107.5">M</text><text transform="translate(1366.75,2003.20) scale(0.5071,1)" font-size="107.5" stroke="#231f20" stroke-width="3.2">(</text><text transform="translate(1387.52,2003.20) scale(1.0955,1)" font-size="89">average</text><text transform="translate(1742.51,2003.20) scale(0.4929,1)" font-size="107.5" stroke="#231f20" stroke-width="3.2">)</text></g>
</svg>
</body></html>
